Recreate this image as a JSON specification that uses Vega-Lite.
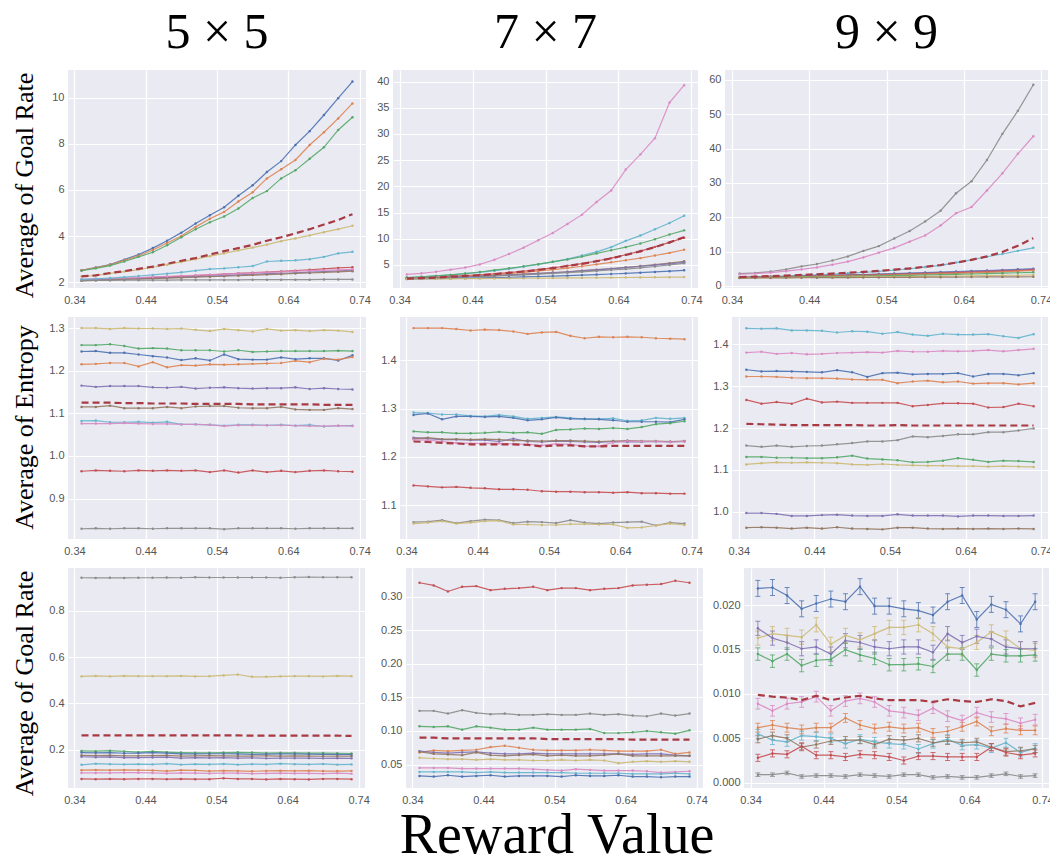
{
"$schema":"https://vega.github.io/schema/vega-lite/v6.json",
"background":"white",
"padding":{"left":10,"top":8,"right":2,"bottom":5},
"title":{"text":"Reward Value","orient":"bottom","anchor":"middle","fontSize":56,"font":"Liberation Serif","fontWeight":"normal","color":"black","baseline":"alphabetic","offset":48,"dx":25},
"config":{
"view":{"fill":"#EAEAF2","stroke":null},
"range":{"category":["#4C72B0","#DD8452","#55A868","#C44E52","#8172B3","#937860","#DA8BC3","#8C8C8C","#CCB974","#64B5CD"]},
"axis":{"domain":false,"ticks":false,"grid":true,"gridColor":"white","gridWidth":1.2,"labelFont":"Liberation Sans","labelFontSize":11,"labelColor":"#555555","labelPadding":4,"titleFont":"Liberation Serif","titleFontSize":26,"titleFontWeight":"normal","titleColor":"black"},
"axisY":{"titleAngle":270,"titleX":-36,"titleBaseline":"alphabetic","titleAlign":"center"},
"axisX":{"labelPadding":6},
"title":{"font":"Liberation Serif","fontSize":50,"fontWeight":"normal","color":"black","baseline":"alphabetic","offset":12,"anchor":"middle"}
},
"data":{"values":[
{"p":1,"s":"a","x":0.35,"y":2.52},{"p":1,"s":"a","x":0.37,"y":2.64},{"p":1,"s":"a","x":0.39,"y":2.77},{"p":1,"s":"a","x":0.41,"y":2.98},{"p":1,"s":"a","x":0.43,"y":3.2},{"p":1,"s":"a","x":0.45,"y":3.48},{"p":1,"s":"a","x":0.47,"y":3.8},{"p":1,"s":"a","x":0.49,"y":4.15},{"p":1,"s":"a","x":0.51,"y":4.55},{"p":1,"s":"a","x":0.53,"y":4.9},{"p":1,"s":"a","x":0.55,"y":5.25},{"p":1,"s":"a","x":0.57,"y":5.75},{"p":1,"s":"a","x":0.59,"y":6.2},{"p":1,"s":"a","x":0.61,"y":6.78},{"p":1,"s":"a","x":0.63,"y":7.25},{"p":1,"s":"a","x":0.65,"y":7.95},{"p":1,"s":"a","x":0.67,"y":8.55},{"p":1,"s":"a","x":0.69,"y":9.25},{"p":1,"s":"a","x":0.71,"y":9.98},{"p":1,"s":"a","x":0.73,"y":10.7},
{"p":1,"s":"b","x":0.35,"y":2.52},{"p":1,"s":"b","x":0.37,"y":2.63},{"p":1,"s":"b","x":0.39,"y":2.75},{"p":1,"s":"b","x":0.41,"y":2.95},{"p":1,"s":"b","x":0.43,"y":3.15},{"p":1,"s":"b","x":0.45,"y":3.4},{"p":1,"s":"b","x":0.47,"y":3.7},{"p":1,"s":"b","x":0.49,"y":4.0},{"p":1,"s":"b","x":0.51,"y":4.4},{"p":1,"s":"b","x":0.53,"y":4.75},{"p":1,"s":"b","x":0.55,"y":5.05},{"p":1,"s":"b","x":0.57,"y":5.5},{"p":1,"s":"b","x":0.59,"y":5.9},{"p":1,"s":"b","x":0.61,"y":6.5},{"p":1,"s":"b","x":0.63,"y":6.9},{"p":1,"s":"b","x":0.65,"y":7.3},{"p":1,"s":"b","x":0.67,"y":7.95},{"p":1,"s":"b","x":0.69,"y":8.5},{"p":1,"s":"b","x":0.71,"y":9.1},{"p":1,"s":"b","x":0.73,"y":9.75},
{"p":1,"s":"c","x":0.35,"y":2.5},{"p":1,"s":"c","x":0.37,"y":2.6},{"p":1,"s":"c","x":0.39,"y":2.72},{"p":1,"s":"c","x":0.41,"y":2.9},{"p":1,"s":"c","x":0.43,"y":3.1},{"p":1,"s":"c","x":0.45,"y":3.3},{"p":1,"s":"c","x":0.47,"y":3.6},{"p":1,"s":"c","x":0.49,"y":3.95},{"p":1,"s":"c","x":0.51,"y":4.3},{"p":1,"s":"c","x":0.53,"y":4.6},{"p":1,"s":"c","x":0.55,"y":4.85},{"p":1,"s":"c","x":0.57,"y":5.2},{"p":1,"s":"c","x":0.59,"y":5.65},{"p":1,"s":"c","x":0.61,"y":5.95},{"p":1,"s":"c","x":0.63,"y":6.5},{"p":1,"s":"c","x":0.65,"y":6.85},{"p":1,"s":"c","x":0.67,"y":7.35},{"p":1,"s":"c","x":0.69,"y":7.85},{"p":1,"s":"c","x":0.71,"y":8.6},{"p":1,"s":"c","x":0.73,"y":9.15},
{"p":1,"s":"d","x":0.35,"y":2.1},{"p":1,"s":"d","x":0.37,"y":2.12},{"p":1,"s":"d","x":0.39,"y":2.14},{"p":1,"s":"d","x":0.41,"y":2.16},{"p":1,"s":"d","x":0.43,"y":2.18},{"p":1,"s":"d","x":0.45,"y":2.2},{"p":1,"s":"d","x":0.47,"y":2.23},{"p":1,"s":"d","x":0.49,"y":2.26},{"p":1,"s":"d","x":0.51,"y":2.29},{"p":1,"s":"d","x":0.53,"y":2.32},{"p":1,"s":"d","x":0.55,"y":2.35},{"p":1,"s":"d","x":0.57,"y":2.38},{"p":1,"s":"d","x":0.59,"y":2.41},{"p":1,"s":"d","x":0.61,"y":2.44},{"p":1,"s":"d","x":0.63,"y":2.47},{"p":1,"s":"d","x":0.65,"y":2.5},{"p":1,"s":"d","x":0.67,"y":2.54},{"p":1,"s":"d","x":0.69,"y":2.58},{"p":1,"s":"d","x":0.71,"y":2.62},{"p":1,"s":"d","x":0.73,"y":2.65},
{"p":1,"s":"e","x":0.35,"y":2.08},{"p":1,"s":"e","x":0.37,"y":2.1},{"p":1,"s":"e","x":0.39,"y":2.12},{"p":1,"s":"e","x":0.41,"y":2.14},{"p":1,"s":"e","x":0.43,"y":2.16},{"p":1,"s":"e","x":0.45,"y":2.18},{"p":1,"s":"e","x":0.47,"y":2.2},{"p":1,"s":"e","x":0.49,"y":2.22},{"p":1,"s":"e","x":0.51,"y":2.24},{"p":1,"s":"e","x":0.53,"y":2.27},{"p":1,"s":"e","x":0.55,"y":2.29},{"p":1,"s":"e","x":0.57,"y":2.32},{"p":1,"s":"e","x":0.59,"y":2.34},{"p":1,"s":"e","x":0.61,"y":2.37},{"p":1,"s":"e","x":0.63,"y":2.39},{"p":1,"s":"e","x":0.65,"y":2.41},{"p":1,"s":"e","x":0.67,"y":2.44},{"p":1,"s":"e","x":0.69,"y":2.46},{"p":1,"s":"e","x":0.71,"y":2.49},{"p":1,"s":"e","x":0.73,"y":2.52},
{"p":1,"s":"f","x":0.35,"y":2.06},{"p":1,"s":"f","x":0.37,"y":2.08},{"p":1,"s":"f","x":0.39,"y":2.1},{"p":1,"s":"f","x":0.41,"y":2.12},{"p":1,"s":"f","x":0.43,"y":2.14},{"p":1,"s":"f","x":0.45,"y":2.16},{"p":1,"s":"f","x":0.47,"y":2.18},{"p":1,"s":"f","x":0.49,"y":2.2},{"p":1,"s":"f","x":0.51,"y":2.22},{"p":1,"s":"f","x":0.53,"y":2.24},{"p":1,"s":"f","x":0.55,"y":2.26},{"p":1,"s":"f","x":0.57,"y":2.28},{"p":1,"s":"f","x":0.59,"y":2.31},{"p":1,"s":"f","x":0.61,"y":2.33},{"p":1,"s":"f","x":0.63,"y":2.35},{"p":1,"s":"f","x":0.65,"y":2.38},{"p":1,"s":"f","x":0.67,"y":2.4},{"p":1,"s":"f","x":0.69,"y":2.43},{"p":1,"s":"f","x":0.71,"y":2.45},{"p":1,"s":"f","x":0.73,"y":2.48},
{"p":1,"s":"g","x":0.35,"y":2.12},{"p":1,"s":"g","x":0.37,"y":2.14},{"p":1,"s":"g","x":0.39,"y":2.16},{"p":1,"s":"g","x":0.41,"y":2.18},{"p":1,"s":"g","x":0.43,"y":2.2},{"p":1,"s":"g","x":0.45,"y":2.23},{"p":1,"s":"g","x":0.47,"y":2.25},{"p":1,"s":"g","x":0.49,"y":2.28},{"p":1,"s":"g","x":0.51,"y":2.3},{"p":1,"s":"g","x":0.53,"y":2.33},{"p":1,"s":"g","x":0.55,"y":2.35},{"p":1,"s":"g","x":0.57,"y":2.38},{"p":1,"s":"g","x":0.59,"y":2.4},{"p":1,"s":"g","x":0.61,"y":2.43},{"p":1,"s":"g","x":0.63,"y":2.45},{"p":1,"s":"g","x":0.65,"y":2.48},{"p":1,"s":"g","x":0.67,"y":2.5},{"p":1,"s":"g","x":0.69,"y":2.52},{"p":1,"s":"g","x":0.71,"y":2.54},{"p":1,"s":"g","x":0.73,"y":2.56},
{"p":1,"s":"h","x":0.35,"y":2.08},{"p":1,"s":"h","x":0.37,"y":2.08},{"p":1,"s":"h","x":0.39,"y":2.08},{"p":1,"s":"h","x":0.41,"y":2.09},{"p":1,"s":"h","x":0.43,"y":2.09},{"p":1,"s":"h","x":0.45,"y":2.09},{"p":1,"s":"h","x":0.47,"y":2.09},{"p":1,"s":"h","x":0.49,"y":2.1},{"p":1,"s":"h","x":0.51,"y":2.1},{"p":1,"s":"h","x":0.53,"y":2.1},{"p":1,"s":"h","x":0.55,"y":2.1},{"p":1,"s":"h","x":0.57,"y":2.1},{"p":1,"s":"h","x":0.59,"y":2.11},{"p":1,"s":"h","x":0.61,"y":2.11},{"p":1,"s":"h","x":0.63,"y":2.11},{"p":1,"s":"h","x":0.65,"y":2.11},{"p":1,"s":"h","x":0.67,"y":2.11},{"p":1,"s":"h","x":0.69,"y":2.12},{"p":1,"s":"h","x":0.71,"y":2.12},{"p":1,"s":"h","x":0.73,"y":2.12},
{"p":1,"s":"i","x":0.35,"y":2.25},{"p":1,"s":"i","x":0.37,"y":2.3},{"p":1,"s":"i","x":0.39,"y":2.38},{"p":1,"s":"i","x":0.41,"y":2.46},{"p":1,"s":"i","x":0.43,"y":2.55},{"p":1,"s":"i","x":0.45,"y":2.65},{"p":1,"s":"i","x":0.47,"y":2.76},{"p":1,"s":"i","x":0.49,"y":2.88},{"p":1,"s":"i","x":0.51,"y":3.0},{"p":1,"s":"i","x":0.53,"y":3.13},{"p":1,"s":"i","x":0.55,"y":3.25},{"p":1,"s":"i","x":0.57,"y":3.38},{"p":1,"s":"i","x":0.59,"y":3.5},{"p":1,"s":"i","x":0.61,"y":3.63},{"p":1,"s":"i","x":0.63,"y":3.78},{"p":1,"s":"i","x":0.65,"y":3.9},{"p":1,"s":"i","x":0.67,"y":4.03},{"p":1,"s":"i","x":0.69,"y":4.17},{"p":1,"s":"i","x":0.71,"y":4.3},{"p":1,"s":"i","x":0.73,"y":4.45},
{"p":1,"s":"j","x":0.35,"y":2.12},{"p":1,"s":"j","x":0.37,"y":2.15},{"p":1,"s":"j","x":0.39,"y":2.18},{"p":1,"s":"j","x":0.41,"y":2.22},{"p":1,"s":"j","x":0.43,"y":2.27},{"p":1,"s":"j","x":0.45,"y":2.32},{"p":1,"s":"j","x":0.47,"y":2.37},{"p":1,"s":"j","x":0.49,"y":2.43},{"p":1,"s":"j","x":0.51,"y":2.5},{"p":1,"s":"j","x":0.53,"y":2.57},{"p":1,"s":"j","x":0.55,"y":2.6},{"p":1,"s":"j","x":0.57,"y":2.65},{"p":1,"s":"j","x":0.59,"y":2.7},{"p":1,"s":"j","x":0.61,"y":2.9},{"p":1,"s":"j","x":0.63,"y":2.93},{"p":1,"s":"j","x":0.65,"y":2.95},{"p":1,"s":"j","x":0.67,"y":3.0},{"p":1,"s":"j","x":0.69,"y":3.1},{"p":1,"s":"j","x":0.71,"y":3.25},{"p":1,"s":"j","x":0.73,"y":3.32},
{"p":1,"s":"m","x":0.35,"y":2.25},{"p":1,"s":"m","x":0.37,"y":2.3},{"p":1,"s":"m","x":0.39,"y":2.4},{"p":1,"s":"m","x":0.41,"y":2.48},{"p":1,"s":"m","x":0.43,"y":2.58},{"p":1,"s":"m","x":0.45,"y":2.68},{"p":1,"s":"m","x":0.47,"y":2.8},{"p":1,"s":"m","x":0.49,"y":2.93},{"p":1,"s":"m","x":0.51,"y":3.05},{"p":1,"s":"m","x":0.53,"y":3.2},{"p":1,"s":"m","x":0.55,"y":3.35},{"p":1,"s":"m","x":0.57,"y":3.48},{"p":1,"s":"m","x":0.59,"y":3.62},{"p":1,"s":"m","x":0.61,"y":3.8},{"p":1,"s":"m","x":0.63,"y":3.95},{"p":1,"s":"m","x":0.65,"y":4.12},{"p":1,"s":"m","x":0.67,"y":4.3},{"p":1,"s":"m","x":0.69,"y":4.5},{"p":1,"s":"m","x":0.71,"y":4.7},{"p":1,"s":"m","x":0.73,"y":4.95},
{"p":2,"s":"g","x":0.35,"y":3.2},{"p":2,"s":"g","x":0.37,"y":3.4},{"p":2,"s":"g","x":0.39,"y":3.7},{"p":2,"s":"g","x":0.41,"y":4.1},{"p":2,"s":"g","x":0.43,"y":4.5},{"p":2,"s":"g","x":0.45,"y":5.1},{"p":2,"s":"g","x":0.47,"y":6.0},{"p":2,"s":"g","x":0.49,"y":7.1},{"p":2,"s":"g","x":0.51,"y":8.3},{"p":2,"s":"g","x":0.53,"y":9.7},{"p":2,"s":"g","x":0.55,"y":11.1},{"p":2,"s":"g","x":0.57,"y":12.8},{"p":2,"s":"g","x":0.59,"y":14.6},{"p":2,"s":"g","x":0.61,"y":17.0},{"p":2,"s":"g","x":0.63,"y":19.2},{"p":2,"s":"g","x":0.65,"y":23.2},{"p":2,"s":"g","x":0.67,"y":26.1},{"p":2,"s":"g","x":0.69,"y":29.2},{"p":2,"s":"g","x":0.71,"y":36.0},{"p":2,"s":"g","x":0.73,"y":39.3},
{"p":2,"s":"j","x":0.35,"y":2.6},{"p":2,"s":"j","x":0.37,"y":2.75},{"p":2,"s":"j","x":0.39,"y":2.9},{"p":2,"s":"j","x":0.41,"y":3.1},{"p":2,"s":"j","x":0.43,"y":3.35},{"p":2,"s":"j","x":0.45,"y":3.6},{"p":2,"s":"j","x":0.47,"y":3.9},{"p":2,"s":"j","x":0.49,"y":4.25},{"p":2,"s":"j","x":0.51,"y":4.65},{"p":2,"s":"j","x":0.53,"y":5.1},{"p":2,"s":"j","x":0.55,"y":5.6},{"p":2,"s":"j","x":0.57,"y":6.1},{"p":2,"s":"j","x":0.59,"y":6.8},{"p":2,"s":"j","x":0.61,"y":7.5},{"p":2,"s":"j","x":0.63,"y":8.4},{"p":2,"s":"j","x":0.65,"y":9.6},{"p":2,"s":"j","x":0.67,"y":10.6},{"p":2,"s":"j","x":0.69,"y":11.8},{"p":2,"s":"j","x":0.71,"y":13.0},{"p":2,"s":"j","x":0.73,"y":14.4},
{"p":2,"s":"c","x":0.35,"y":2.6},{"p":2,"s":"c","x":0.37,"y":2.75},{"p":2,"s":"c","x":0.39,"y":2.9},{"p":2,"s":"c","x":0.41,"y":3.1},{"p":2,"s":"c","x":0.43,"y":3.35},{"p":2,"s":"c","x":0.45,"y":3.65},{"p":2,"s":"c","x":0.47,"y":4.0},{"p":2,"s":"c","x":0.49,"y":4.35},{"p":2,"s":"c","x":0.51,"y":4.75},{"p":2,"s":"c","x":0.53,"y":5.15},{"p":2,"s":"c","x":0.55,"y":5.6},{"p":2,"s":"c","x":0.57,"y":6.05},{"p":2,"s":"c","x":0.59,"y":6.6},{"p":2,"s":"c","x":0.61,"y":7.2},{"p":2,"s":"c","x":0.63,"y":7.8},{"p":2,"s":"c","x":0.65,"y":8.4},{"p":2,"s":"c","x":0.67,"y":9.1},{"p":2,"s":"c","x":0.69,"y":9.9},{"p":2,"s":"c","x":0.71,"y":10.8},{"p":2,"s":"c","x":0.73,"y":11.6},
{"p":2,"s":"d","x":0.35,"y":2.45},{"p":2,"s":"d","x":0.37,"y":2.55},{"p":2,"s":"d","x":0.39,"y":2.65},{"p":2,"s":"d","x":0.41,"y":2.8},{"p":2,"s":"d","x":0.43,"y":2.95},{"p":2,"s":"d","x":0.45,"y":3.1},{"p":2,"s":"d","x":0.47,"y":3.3},{"p":2,"s":"d","x":0.49,"y":3.55},{"p":2,"s":"d","x":0.51,"y":3.8},{"p":2,"s":"d","x":0.53,"y":4.1},{"p":2,"s":"d","x":0.55,"y":4.45},{"p":2,"s":"d","x":0.57,"y":4.85},{"p":2,"s":"d","x":0.59,"y":5.25},{"p":2,"s":"d","x":0.61,"y":5.75},{"p":2,"s":"d","x":0.63,"y":6.3},{"p":2,"s":"d","x":0.65,"y":6.95},{"p":2,"s":"d","x":0.67,"y":7.65},{"p":2,"s":"d","x":0.69,"y":8.45},{"p":2,"s":"d","x":0.71,"y":9.3},{"p":2,"s":"d","x":0.73,"y":10.2},
{"p":2,"s":"b","x":0.35,"y":2.4},{"p":2,"s":"b","x":0.37,"y":2.5},{"p":2,"s":"b","x":0.39,"y":2.6},{"p":2,"s":"b","x":0.41,"y":2.7},{"p":2,"s":"b","x":0.43,"y":2.85},{"p":2,"s":"b","x":0.45,"y":3.0},{"p":2,"s":"b","x":0.47,"y":3.2},{"p":2,"s":"b","x":0.49,"y":3.4},{"p":2,"s":"b","x":0.51,"y":3.6},{"p":2,"s":"b","x":0.53,"y":3.85},{"p":2,"s":"b","x":0.55,"y":4.1},{"p":2,"s":"b","x":0.57,"y":4.4},{"p":2,"s":"b","x":0.59,"y":4.75},{"p":2,"s":"b","x":0.61,"y":5.1},{"p":2,"s":"b","x":0.63,"y":5.5},{"p":2,"s":"b","x":0.65,"y":5.9},{"p":2,"s":"b","x":0.67,"y":6.3},{"p":2,"s":"b","x":0.69,"y":6.8},{"p":2,"s":"b","x":0.71,"y":7.3},{"p":2,"s":"b","x":0.73,"y":7.9},
{"p":2,"s":"f","x":0.35,"y":2.4},{"p":2,"s":"f","x":0.37,"y":2.46},{"p":2,"s":"f","x":0.39,"y":2.56},{"p":2,"s":"f","x":0.41,"y":2.66},{"p":2,"s":"f","x":0.43,"y":2.76},{"p":2,"s":"f","x":0.45,"y":2.87},{"p":2,"s":"f","x":0.47,"y":2.98},{"p":2,"s":"f","x":0.49,"y":3.1},{"p":2,"s":"f","x":0.51,"y":3.24},{"p":2,"s":"f","x":0.53,"y":3.38},{"p":2,"s":"f","x":0.55,"y":3.54},{"p":2,"s":"f","x":0.57,"y":3.7},{"p":2,"s":"f","x":0.59,"y":3.9},{"p":2,"s":"f","x":0.61,"y":4.1},{"p":2,"s":"f","x":0.63,"y":4.3},{"p":2,"s":"f","x":0.65,"y":4.55},{"p":2,"s":"f","x":0.67,"y":4.8},{"p":2,"s":"f","x":0.69,"y":5.05},{"p":2,"s":"f","x":0.71,"y":5.35},{"p":2,"s":"f","x":0.73,"y":5.7},
{"p":2,"s":"e","x":0.35,"y":2.4},{"p":2,"s":"e","x":0.37,"y":2.45},{"p":2,"s":"e","x":0.39,"y":2.55},{"p":2,"s":"e","x":0.41,"y":2.65},{"p":2,"s":"e","x":0.43,"y":2.75},{"p":2,"s":"e","x":0.45,"y":2.85},{"p":2,"s":"e","x":0.47,"y":2.95},{"p":2,"s":"e","x":0.49,"y":3.05},{"p":2,"s":"e","x":0.51,"y":3.2},{"p":2,"s":"e","x":0.53,"y":3.35},{"p":2,"s":"e","x":0.55,"y":3.5},{"p":2,"s":"e","x":0.57,"y":3.65},{"p":2,"s":"e","x":0.59,"y":3.85},{"p":2,"s":"e","x":0.61,"y":4.05},{"p":2,"s":"e","x":0.63,"y":4.25},{"p":2,"s":"e","x":0.65,"y":4.5},{"p":2,"s":"e","x":0.67,"y":4.7},{"p":2,"s":"e","x":0.69,"y":4.95},{"p":2,"s":"e","x":0.71,"y":5.2},{"p":2,"s":"e","x":0.73,"y":5.5},
{"p":2,"s":"h","x":0.35,"y":2.35},{"p":2,"s":"h","x":0.37,"y":2.42},{"p":2,"s":"h","x":0.39,"y":2.5},{"p":2,"s":"h","x":0.41,"y":2.6},{"p":2,"s":"h","x":0.43,"y":2.7},{"p":2,"s":"h","x":0.45,"y":2.8},{"p":2,"s":"h","x":0.47,"y":2.9},{"p":2,"s":"h","x":0.49,"y":3.0},{"p":2,"s":"h","x":0.51,"y":3.12},{"p":2,"s":"h","x":0.53,"y":3.25},{"p":2,"s":"h","x":0.55,"y":3.38},{"p":2,"s":"h","x":0.57,"y":3.52},{"p":2,"s":"h","x":0.59,"y":3.68},{"p":2,"s":"h","x":0.61,"y":3.85},{"p":2,"s":"h","x":0.63,"y":4.03},{"p":2,"s":"h","x":0.65,"y":4.22},{"p":2,"s":"h","x":0.67,"y":4.45},{"p":2,"s":"h","x":0.69,"y":4.7},{"p":2,"s":"h","x":0.71,"y":5.0},{"p":2,"s":"h","x":0.73,"y":5.3},
{"p":2,"s":"a","x":0.35,"y":2.3},{"p":2,"s":"a","x":0.37,"y":2.34},{"p":2,"s":"a","x":0.39,"y":2.38},{"p":2,"s":"a","x":0.41,"y":2.43},{"p":2,"s":"a","x":0.43,"y":2.48},{"p":2,"s":"a","x":0.45,"y":2.53},{"p":2,"s":"a","x":0.47,"y":2.59},{"p":2,"s":"a","x":0.49,"y":2.65},{"p":2,"s":"a","x":0.51,"y":2.72},{"p":2,"s":"a","x":0.53,"y":2.79},{"p":2,"s":"a","x":0.55,"y":2.87},{"p":2,"s":"a","x":0.57,"y":2.96},{"p":2,"s":"a","x":0.59,"y":3.06},{"p":2,"s":"a","x":0.61,"y":3.16},{"p":2,"s":"a","x":0.63,"y":3.27},{"p":2,"s":"a","x":0.65,"y":3.39},{"p":2,"s":"a","x":0.67,"y":3.52},{"p":2,"s":"a","x":0.69,"y":3.66},{"p":2,"s":"a","x":0.71,"y":3.81},{"p":2,"s":"a","x":0.73,"y":3.97},
{"p":2,"s":"i","x":0.35,"y":2.3},{"p":2,"s":"i","x":0.37,"y":2.32},{"p":2,"s":"i","x":0.39,"y":2.34},{"p":2,"s":"i","x":0.41,"y":2.36},{"p":2,"s":"i","x":0.43,"y":2.38},{"p":2,"s":"i","x":0.45,"y":2.4},{"p":2,"s":"i","x":0.47,"y":2.42},{"p":2,"s":"i","x":0.49,"y":2.44},{"p":2,"s":"i","x":0.51,"y":2.46},{"p":2,"s":"i","x":0.53,"y":2.48},{"p":2,"s":"i","x":0.55,"y":2.5},{"p":2,"s":"i","x":0.57,"y":2.52},{"p":2,"s":"i","x":0.59,"y":2.54},{"p":2,"s":"i","x":0.61,"y":2.56},{"p":2,"s":"i","x":0.63,"y":2.58},{"p":2,"s":"i","x":0.65,"y":2.6},{"p":2,"s":"i","x":0.67,"y":2.62},{"p":2,"s":"i","x":0.69,"y":2.64},{"p":2,"s":"i","x":0.71,"y":2.66},{"p":2,"s":"i","x":0.73,"y":2.68},
{"p":2,"s":"m","x":0.35,"y":2.4},{"p":2,"s":"m","x":0.37,"y":2.5},{"p":2,"s":"m","x":0.39,"y":2.6},{"p":2,"s":"m","x":0.41,"y":2.75},{"p":2,"s":"m","x":0.43,"y":2.9},{"p":2,"s":"m","x":0.45,"y":3.05},{"p":2,"s":"m","x":0.47,"y":3.25},{"p":2,"s":"m","x":0.49,"y":3.5},{"p":2,"s":"m","x":0.51,"y":3.75},{"p":2,"s":"m","x":0.53,"y":4.05},{"p":2,"s":"m","x":0.55,"y":4.4},{"p":2,"s":"m","x":0.57,"y":4.8},{"p":2,"s":"m","x":0.59,"y":5.2},{"p":2,"s":"m","x":0.61,"y":5.7},{"p":2,"s":"m","x":0.63,"y":6.25},{"p":2,"s":"m","x":0.65,"y":6.9},{"p":2,"s":"m","x":0.67,"y":7.6},{"p":2,"s":"m","x":0.69,"y":8.4},{"p":2,"s":"m","x":0.71,"y":9.3},{"p":2,"s":"m","x":0.73,"y":10.3},
{"p":3,"s":"h","x":0.35,"y":3.6},{"p":3,"s":"h","x":0.37,"y":3.8},{"p":3,"s":"h","x":0.39,"y":4.2},{"p":3,"s":"h","x":0.41,"y":4.8},{"p":3,"s":"h","x":0.43,"y":5.7},{"p":3,"s":"h","x":0.45,"y":6.4},{"p":3,"s":"h","x":0.47,"y":7.4},{"p":3,"s":"h","x":0.49,"y":8.6},{"p":3,"s":"h","x":0.51,"y":10.2},{"p":3,"s":"h","x":0.53,"y":11.6},{"p":3,"s":"h","x":0.55,"y":13.8},{"p":3,"s":"h","x":0.57,"y":16.0},{"p":3,"s":"h","x":0.59,"y":18.8},{"p":3,"s":"h","x":0.61,"y":21.9},{"p":3,"s":"h","x":0.63,"y":27.0},{"p":3,"s":"h","x":0.65,"y":30.5},{"p":3,"s":"h","x":0.67,"y":36.7},{"p":3,"s":"h","x":0.69,"y":44.3},{"p":3,"s":"h","x":0.71,"y":51.0},{"p":3,"s":"h","x":0.73,"y":58.6},
{"p":3,"s":"g","x":0.35,"y":3.4},{"p":3,"s":"g","x":0.37,"y":3.6},{"p":3,"s":"g","x":0.39,"y":3.9},{"p":3,"s":"g","x":0.41,"y":4.3},{"p":3,"s":"g","x":0.43,"y":4.8},{"p":3,"s":"g","x":0.45,"y":5.4},{"p":3,"s":"g","x":0.47,"y":6.2},{"p":3,"s":"g","x":0.49,"y":7.1},{"p":3,"s":"g","x":0.51,"y":8.3},{"p":3,"s":"g","x":0.53,"y":9.7},{"p":3,"s":"g","x":0.55,"y":11.1},{"p":3,"s":"g","x":0.57,"y":12.9},{"p":3,"s":"g","x":0.59,"y":14.7},{"p":3,"s":"g","x":0.61,"y":17.6},{"p":3,"s":"g","x":0.63,"y":21.2},{"p":3,"s":"g","x":0.65,"y":23.0},{"p":3,"s":"g","x":0.67,"y":27.8},{"p":3,"s":"g","x":0.69,"y":32.8},{"p":3,"s":"g","x":0.71,"y":38.5},{"p":3,"s":"g","x":0.73,"y":43.6},
{"p":3,"s":"j","x":0.35,"y":2.5},{"p":3,"s":"j","x":0.37,"y":2.6},{"p":3,"s":"j","x":0.39,"y":2.75},{"p":3,"s":"j","x":0.41,"y":2.9},{"p":3,"s":"j","x":0.43,"y":3.05},{"p":3,"s":"j","x":0.45,"y":3.25},{"p":3,"s":"j","x":0.47,"y":3.45},{"p":3,"s":"j","x":0.49,"y":3.7},{"p":3,"s":"j","x":0.51,"y":3.95},{"p":3,"s":"j","x":0.53,"y":4.25},{"p":3,"s":"j","x":0.55,"y":4.6},{"p":3,"s":"j","x":0.57,"y":5.0},{"p":3,"s":"j","x":0.59,"y":5.5},{"p":3,"s":"j","x":0.61,"y":6.0},{"p":3,"s":"j","x":0.63,"y":6.8},{"p":3,"s":"j","x":0.65,"y":7.6},{"p":3,"s":"j","x":0.67,"y":8.5},{"p":3,"s":"j","x":0.69,"y":9.3},{"p":3,"s":"j","x":0.71,"y":10.2},{"p":3,"s":"j","x":0.73,"y":11.1},
{"p":3,"s":"a","x":0.35,"y":2.5},{"p":3,"s":"a","x":0.37,"y":2.6},{"p":3,"s":"a","x":0.39,"y":2.7},{"p":3,"s":"a","x":0.41,"y":2.8},{"p":3,"s":"a","x":0.43,"y":2.9},{"p":3,"s":"a","x":0.45,"y":3.0},{"p":3,"s":"a","x":0.47,"y":3.1},{"p":3,"s":"a","x":0.49,"y":3.2},{"p":3,"s":"a","x":0.51,"y":3.3},{"p":3,"s":"a","x":0.53,"y":3.45},{"p":3,"s":"a","x":0.55,"y":3.6},{"p":3,"s":"a","x":0.57,"y":3.75},{"p":3,"s":"a","x":0.59,"y":3.9},{"p":3,"s":"a","x":0.61,"y":4.05},{"p":3,"s":"a","x":0.63,"y":4.2},{"p":3,"s":"a","x":0.65,"y":4.35},{"p":3,"s":"a","x":0.67,"y":4.5},{"p":3,"s":"a","x":0.69,"y":4.65},{"p":3,"s":"a","x":0.71,"y":4.85},{"p":3,"s":"a","x":0.73,"y":5.0},
{"p":3,"s":"e","x":0.35,"y":2.5},{"p":3,"s":"e","x":0.37,"y":2.58},{"p":3,"s":"e","x":0.39,"y":2.66},{"p":3,"s":"e","x":0.41,"y":2.75},{"p":3,"s":"e","x":0.43,"y":2.85},{"p":3,"s":"e","x":0.45,"y":2.95},{"p":3,"s":"e","x":0.47,"y":3.05},{"p":3,"s":"e","x":0.49,"y":3.15},{"p":3,"s":"e","x":0.51,"y":3.26},{"p":3,"s":"e","x":0.53,"y":3.38},{"p":3,"s":"e","x":0.55,"y":3.5},{"p":3,"s":"e","x":0.57,"y":3.63},{"p":3,"s":"e","x":0.59,"y":3.77},{"p":3,"s":"e","x":0.61,"y":3.92},{"p":3,"s":"e","x":0.63,"y":4.07},{"p":3,"s":"e","x":0.65,"y":4.22},{"p":3,"s":"e","x":0.67,"y":4.38},{"p":3,"s":"e","x":0.69,"y":4.55},{"p":3,"s":"e","x":0.71,"y":4.72},{"p":3,"s":"e","x":0.73,"y":4.9},
{"p":3,"s":"d","x":0.35,"y":2.45},{"p":3,"s":"d","x":0.37,"y":2.52},{"p":3,"s":"d","x":0.39,"y":2.6},{"p":3,"s":"d","x":0.41,"y":2.68},{"p":3,"s":"d","x":0.43,"y":2.77},{"p":3,"s":"d","x":0.45,"y":2.86},{"p":3,"s":"d","x":0.47,"y":2.95},{"p":3,"s":"d","x":0.49,"y":3.05},{"p":3,"s":"d","x":0.51,"y":3.15},{"p":3,"s":"d","x":0.53,"y":3.26},{"p":3,"s":"d","x":0.55,"y":3.37},{"p":3,"s":"d","x":0.57,"y":3.49},{"p":3,"s":"d","x":0.59,"y":3.61},{"p":3,"s":"d","x":0.61,"y":3.74},{"p":3,"s":"d","x":0.63,"y":3.88},{"p":3,"s":"d","x":0.65,"y":4.02},{"p":3,"s":"d","x":0.67,"y":4.17},{"p":3,"s":"d","x":0.69,"y":4.33},{"p":3,"s":"d","x":0.71,"y":4.5},{"p":3,"s":"d","x":0.73,"y":4.7},
{"p":3,"s":"b","x":0.35,"y":2.4},{"p":3,"s":"b","x":0.37,"y":2.46},{"p":3,"s":"b","x":0.39,"y":2.53},{"p":3,"s":"b","x":0.41,"y":2.6},{"p":3,"s":"b","x":0.43,"y":2.68},{"p":3,"s":"b","x":0.45,"y":2.76},{"p":3,"s":"b","x":0.47,"y":2.84},{"p":3,"s":"b","x":0.49,"y":2.93},{"p":3,"s":"b","x":0.51,"y":3.02},{"p":3,"s":"b","x":0.53,"y":3.12},{"p":3,"s":"b","x":0.55,"y":3.22},{"p":3,"s":"b","x":0.57,"y":3.33},{"p":3,"s":"b","x":0.59,"y":3.44},{"p":3,"s":"b","x":0.61,"y":3.56},{"p":3,"s":"b","x":0.63,"y":3.68},{"p":3,"s":"b","x":0.65,"y":3.81},{"p":3,"s":"b","x":0.67,"y":3.95},{"p":3,"s":"b","x":0.69,"y":4.1},{"p":3,"s":"b","x":0.71,"y":4.3},{"p":3,"s":"b","x":0.73,"y":4.5},
{"p":3,"s":"c","x":0.35,"y":2.4},{"p":3,"s":"c","x":0.37,"y":2.44},{"p":3,"s":"c","x":0.39,"y":2.49},{"p":3,"s":"c","x":0.41,"y":2.54},{"p":3,"s":"c","x":0.43,"y":2.6},{"p":3,"s":"c","x":0.45,"y":2.66},{"p":3,"s":"c","x":0.47,"y":2.72},{"p":3,"s":"c","x":0.49,"y":2.79},{"p":3,"s":"c","x":0.51,"y":2.86},{"p":3,"s":"c","x":0.53,"y":2.94},{"p":3,"s":"c","x":0.55,"y":3.02},{"p":3,"s":"c","x":0.57,"y":3.1},{"p":3,"s":"c","x":0.59,"y":3.19},{"p":3,"s":"c","x":0.61,"y":3.28},{"p":3,"s":"c","x":0.63,"y":3.38},{"p":3,"s":"c","x":0.65,"y":3.48},{"p":3,"s":"c","x":0.67,"y":3.59},{"p":3,"s":"c","x":0.69,"y":3.71},{"p":3,"s":"c","x":0.71,"y":3.84},{"p":3,"s":"c","x":0.73,"y":3.98},
{"p":3,"s":"i","x":0.35,"y":2.35},{"p":3,"s":"i","x":0.37,"y":2.38},{"p":3,"s":"i","x":0.39,"y":2.41},{"p":3,"s":"i","x":0.41,"y":2.44},{"p":3,"s":"i","x":0.43,"y":2.47},{"p":3,"s":"i","x":0.45,"y":2.5},{"p":3,"s":"i","x":0.47,"y":2.54},{"p":3,"s":"i","x":0.49,"y":2.58},{"p":3,"s":"i","x":0.51,"y":2.62},{"p":3,"s":"i","x":0.53,"y":2.66},{"p":3,"s":"i","x":0.55,"y":2.7},{"p":3,"s":"i","x":0.57,"y":2.74},{"p":3,"s":"i","x":0.59,"y":2.79},{"p":3,"s":"i","x":0.61,"y":2.84},{"p":3,"s":"i","x":0.63,"y":2.89},{"p":3,"s":"i","x":0.65,"y":2.94},{"p":3,"s":"i","x":0.67,"y":3.0},{"p":3,"s":"i","x":0.69,"y":3.06},{"p":3,"s":"i","x":0.71,"y":3.12},{"p":3,"s":"i","x":0.73,"y":3.2},
{"p":3,"s":"f","x":0.35,"y":2.3},{"p":3,"s":"f","x":0.37,"y":2.32},{"p":3,"s":"f","x":0.39,"y":2.34},{"p":3,"s":"f","x":0.41,"y":2.36},{"p":3,"s":"f","x":0.43,"y":2.38},{"p":3,"s":"f","x":0.45,"y":2.4},{"p":3,"s":"f","x":0.47,"y":2.42},{"p":3,"s":"f","x":0.49,"y":2.44},{"p":3,"s":"f","x":0.51,"y":2.46},{"p":3,"s":"f","x":0.53,"y":2.48},{"p":3,"s":"f","x":0.55,"y":2.5},{"p":3,"s":"f","x":0.57,"y":2.52},{"p":3,"s":"f","x":0.59,"y":2.54},{"p":3,"s":"f","x":0.61,"y":2.56},{"p":3,"s":"f","x":0.63,"y":2.58},{"p":3,"s":"f","x":0.65,"y":2.6},{"p":3,"s":"f","x":0.67,"y":2.62},{"p":3,"s":"f","x":0.69,"y":2.64},{"p":3,"s":"f","x":0.71,"y":2.66},{"p":3,"s":"f","x":0.73,"y":2.68},
{"p":3,"s":"m","x":0.35,"y":2.6},{"p":3,"s":"m","x":0.37,"y":2.7},{"p":3,"s":"m","x":0.39,"y":2.85},{"p":3,"s":"m","x":0.41,"y":3.0},{"p":3,"s":"m","x":0.43,"y":3.2},{"p":3,"s":"m","x":0.45,"y":3.4},{"p":3,"s":"m","x":0.47,"y":3.6},{"p":3,"s":"m","x":0.49,"y":3.85},{"p":3,"s":"m","x":0.51,"y":4.1},{"p":3,"s":"m","x":0.53,"y":4.4},{"p":3,"s":"m","x":0.55,"y":4.75},{"p":3,"s":"m","x":0.57,"y":5.1},{"p":3,"s":"m","x":0.59,"y":5.6},{"p":3,"s":"m","x":0.61,"y":6.1},{"p":3,"s":"m","x":0.63,"y":6.8},{"p":3,"s":"m","x":0.65,"y":7.6},{"p":3,"s":"m","x":0.67,"y":8.6},{"p":3,"s":"m","x":0.69,"y":9.9},{"p":3,"s":"m","x":0.71,"y":11.7},{"p":3,"s":"m","x":0.73,"y":13.9},
{"p":4,"s":"i","x":0.35,"y":1.3},{"p":4,"s":"i","x":0.37,"y":1.3},{"p":4,"s":"i","x":0.39,"y":1.298},{"p":4,"s":"i","x":0.41,"y":1.3},{"p":4,"s":"i","x":0.43,"y":1.299},{"p":4,"s":"i","x":0.45,"y":1.299},{"p":4,"s":"i","x":0.47,"y":1.298},{"p":4,"s":"i","x":0.49,"y":1.299},{"p":4,"s":"i","x":0.51,"y":1.296},{"p":4,"s":"i","x":0.53,"y":1.293},{"p":4,"s":"i","x":0.55,"y":1.298},{"p":4,"s":"i","x":0.57,"y":1.295},{"p":4,"s":"i","x":0.59,"y":1.292},{"p":4,"s":"i","x":0.61,"y":1.298},{"p":4,"s":"i","x":0.63,"y":1.294},{"p":4,"s":"i","x":0.65,"y":1.295},{"p":4,"s":"i","x":0.67,"y":1.293},{"p":4,"s":"i","x":0.69,"y":1.295},{"p":4,"s":"i","x":0.71,"y":1.294},{"p":4,"s":"i","x":0.73,"y":1.291},
{"p":4,"s":"c","x":0.35,"y":1.26},{"p":4,"s":"c","x":0.37,"y":1.26},{"p":4,"s":"c","x":0.39,"y":1.262},{"p":4,"s":"c","x":0.41,"y":1.258},{"p":4,"s":"c","x":0.43,"y":1.252},{"p":4,"s":"c","x":0.45,"y":1.253},{"p":4,"s":"c","x":0.47,"y":1.252},{"p":4,"s":"c","x":0.49,"y":1.248},{"p":4,"s":"c","x":0.51,"y":1.248},{"p":4,"s":"c","x":0.53,"y":1.248},{"p":4,"s":"c","x":0.55,"y":1.245},{"p":4,"s":"c","x":0.57,"y":1.248},{"p":4,"s":"c","x":0.59,"y":1.244},{"p":4,"s":"c","x":0.61,"y":1.245},{"p":4,"s":"c","x":0.63,"y":1.246},{"p":4,"s":"c","x":0.65,"y":1.246},{"p":4,"s":"c","x":0.67,"y":1.246},{"p":4,"s":"c","x":0.69,"y":1.246},{"p":4,"s":"c","x":0.71,"y":1.247},{"p":4,"s":"c","x":0.73,"y":1.246},
{"p":4,"s":"a","x":0.35,"y":1.245},{"p":4,"s":"a","x":0.37,"y":1.246},{"p":4,"s":"a","x":0.39,"y":1.242},{"p":4,"s":"a","x":0.41,"y":1.242},{"p":4,"s":"a","x":0.43,"y":1.238},{"p":4,"s":"a","x":0.45,"y":1.234},{"p":4,"s":"a","x":0.47,"y":1.231},{"p":4,"s":"a","x":0.49,"y":1.225},{"p":4,"s":"a","x":0.51,"y":1.229},{"p":4,"s":"a","x":0.53,"y":1.224},{"p":4,"s":"a","x":0.55,"y":1.238},{"p":4,"s":"a","x":0.57,"y":1.227},{"p":4,"s":"a","x":0.59,"y":1.226},{"p":4,"s":"a","x":0.61,"y":1.226},{"p":4,"s":"a","x":0.63,"y":1.231},{"p":4,"s":"a","x":0.65,"y":1.227},{"p":4,"s":"a","x":0.67,"y":1.229},{"p":4,"s":"a","x":0.69,"y":1.229},{"p":4,"s":"a","x":0.71,"y":1.224},{"p":4,"s":"a","x":0.73,"y":1.236},
{"p":4,"s":"b","x":0.35,"y":1.215},{"p":4,"s":"b","x":0.37,"y":1.216},{"p":4,"s":"b","x":0.39,"y":1.218},{"p":4,"s":"b","x":0.41,"y":1.218},{"p":4,"s":"b","x":0.43,"y":1.21},{"p":4,"s":"b","x":0.45,"y":1.22},{"p":4,"s":"b","x":0.47,"y":1.208},{"p":4,"s":"b","x":0.49,"y":1.213},{"p":4,"s":"b","x":0.51,"y":1.212},{"p":4,"s":"b","x":0.53,"y":1.215},{"p":4,"s":"b","x":0.55,"y":1.214},{"p":4,"s":"b","x":0.57,"y":1.215},{"p":4,"s":"b","x":0.59,"y":1.216},{"p":4,"s":"b","x":0.61,"y":1.217},{"p":4,"s":"b","x":0.63,"y":1.218},{"p":4,"s":"b","x":0.65,"y":1.223},{"p":4,"s":"b","x":0.67,"y":1.22},{"p":4,"s":"b","x":0.69,"y":1.228},{"p":4,"s":"b","x":0.71,"y":1.226},{"p":4,"s":"b","x":0.73,"y":1.232},
{"p":4,"s":"e","x":0.35,"y":1.165},{"p":4,"s":"e","x":0.37,"y":1.162},{"p":4,"s":"e","x":0.39,"y":1.164},{"p":4,"s":"e","x":0.41,"y":1.164},{"p":4,"s":"e","x":0.43,"y":1.164},{"p":4,"s":"e","x":0.45,"y":1.161},{"p":4,"s":"e","x":0.47,"y":1.16},{"p":4,"s":"e","x":0.49,"y":1.162},{"p":4,"s":"e","x":0.51,"y":1.158},{"p":4,"s":"e","x":0.53,"y":1.16},{"p":4,"s":"e","x":0.55,"y":1.161},{"p":4,"s":"e","x":0.57,"y":1.159},{"p":4,"s":"e","x":0.59,"y":1.158},{"p":4,"s":"e","x":0.61,"y":1.159},{"p":4,"s":"e","x":0.63,"y":1.159},{"p":4,"s":"e","x":0.65,"y":1.161},{"p":4,"s":"e","x":0.67,"y":1.157},{"p":4,"s":"e","x":0.69,"y":1.159},{"p":4,"s":"e","x":0.71,"y":1.157},{"p":4,"s":"e","x":0.73,"y":1.156},
{"p":4,"s":"f","x":0.35,"y":1.115},{"p":4,"s":"f","x":0.37,"y":1.115},{"p":4,"s":"f","x":0.39,"y":1.118},{"p":4,"s":"f","x":0.41,"y":1.112},{"p":4,"s":"f","x":0.43,"y":1.112},{"p":4,"s":"f","x":0.45,"y":1.112},{"p":4,"s":"f","x":0.47,"y":1.115},{"p":4,"s":"f","x":0.49,"y":1.112},{"p":4,"s":"f","x":0.51,"y":1.116},{"p":4,"s":"f","x":0.53,"y":1.117},{"p":4,"s":"f","x":0.55,"y":1.117},{"p":4,"s":"f","x":0.57,"y":1.113},{"p":4,"s":"f","x":0.59,"y":1.112},{"p":4,"s":"f","x":0.61,"y":1.112},{"p":4,"s":"f","x":0.63,"y":1.115},{"p":4,"s":"f","x":0.65,"y":1.109},{"p":4,"s":"f","x":0.67,"y":1.108},{"p":4,"s":"f","x":0.69,"y":1.108},{"p":4,"s":"f","x":0.71,"y":1.112},{"p":4,"s":"f","x":0.73,"y":1.11},
{"p":4,"s":"j","x":0.35,"y":1.082},{"p":4,"s":"j","x":0.37,"y":1.083},{"p":4,"s":"j","x":0.39,"y":1.079},{"p":4,"s":"j","x":0.41,"y":1.079},{"p":4,"s":"j","x":0.43,"y":1.08},{"p":4,"s":"j","x":0.45,"y":1.078},{"p":4,"s":"j","x":0.47,"y":1.08},{"p":4,"s":"j","x":0.49,"y":1.074},{"p":4,"s":"j","x":0.51,"y":1.074},{"p":4,"s":"j","x":0.53,"y":1.073},{"p":4,"s":"j","x":0.55,"y":1.071},{"p":4,"s":"j","x":0.57,"y":1.073},{"p":4,"s":"j","x":0.59,"y":1.073},{"p":4,"s":"j","x":0.61,"y":1.072},{"p":4,"s":"j","x":0.63,"y":1.073},{"p":4,"s":"j","x":0.65,"y":1.071},{"p":4,"s":"j","x":0.67,"y":1.073},{"p":4,"s":"j","x":0.69,"y":1.069},{"p":4,"s":"j","x":0.71,"y":1.071},{"p":4,"s":"j","x":0.73,"y":1.071},
{"p":4,"s":"g","x":0.35,"y":1.076},{"p":4,"s":"g","x":0.37,"y":1.076},{"p":4,"s":"g","x":0.39,"y":1.076},{"p":4,"s":"g","x":0.41,"y":1.077},{"p":4,"s":"g","x":0.43,"y":1.076},{"p":4,"s":"g","x":0.45,"y":1.075},{"p":4,"s":"g","x":0.47,"y":1.075},{"p":4,"s":"g","x":0.49,"y":1.074},{"p":4,"s":"g","x":0.51,"y":1.074},{"p":4,"s":"g","x":0.53,"y":1.073},{"p":4,"s":"g","x":0.55,"y":1.07},{"p":4,"s":"g","x":0.57,"y":1.072},{"p":4,"s":"g","x":0.59,"y":1.072},{"p":4,"s":"g","x":0.61,"y":1.072},{"p":4,"s":"g","x":0.63,"y":1.072},{"p":4,"s":"g","x":0.65,"y":1.071},{"p":4,"s":"g","x":0.67,"y":1.07},{"p":4,"s":"g","x":0.69,"y":1.07},{"p":4,"s":"g","x":0.71,"y":1.071},{"p":4,"s":"g","x":0.73,"y":1.07},
{"p":4,"s":"d","x":0.35,"y":0.964},{"p":4,"s":"d","x":0.37,"y":0.966},{"p":4,"s":"d","x":0.39,"y":0.965},{"p":4,"s":"d","x":0.41,"y":0.964},{"p":4,"s":"d","x":0.43,"y":0.966},{"p":4,"s":"d","x":0.45,"y":0.965},{"p":4,"s":"d","x":0.47,"y":0.966},{"p":4,"s":"d","x":0.49,"y":0.965},{"p":4,"s":"d","x":0.51,"y":0.966},{"p":4,"s":"d","x":0.53,"y":0.962},{"p":4,"s":"d","x":0.55,"y":0.966},{"p":4,"s":"d","x":0.57,"y":0.961},{"p":4,"s":"d","x":0.59,"y":0.966},{"p":4,"s":"d","x":0.61,"y":0.962},{"p":4,"s":"d","x":0.63,"y":0.965},{"p":4,"s":"d","x":0.65,"y":0.962},{"p":4,"s":"d","x":0.67,"y":0.965},{"p":4,"s":"d","x":0.69,"y":0.966},{"p":4,"s":"d","x":0.71,"y":0.964},{"p":4,"s":"d","x":0.73,"y":0.963},
{"p":4,"s":"h","x":0.35,"y":0.829},{"p":4,"s":"h","x":0.37,"y":0.83},{"p":4,"s":"h","x":0.39,"y":0.829},{"p":4,"s":"h","x":0.41,"y":0.83},{"p":4,"s":"h","x":0.43,"y":0.83},{"p":4,"s":"h","x":0.45,"y":0.829},{"p":4,"s":"h","x":0.47,"y":0.83},{"p":4,"s":"h","x":0.49,"y":0.83},{"p":4,"s":"h","x":0.51,"y":0.83},{"p":4,"s":"h","x":0.53,"y":0.83},{"p":4,"s":"h","x":0.55,"y":0.828},{"p":4,"s":"h","x":0.57,"y":0.83},{"p":4,"s":"h","x":0.59,"y":0.83},{"p":4,"s":"h","x":0.61,"y":0.83},{"p":4,"s":"h","x":0.63,"y":0.83},{"p":4,"s":"h","x":0.65,"y":0.829},{"p":4,"s":"h","x":0.67,"y":0.83},{"p":4,"s":"h","x":0.69,"y":0.83},{"p":4,"s":"h","x":0.71,"y":0.83},{"p":4,"s":"h","x":0.73,"y":0.83},
{"p":4,"s":"m","x":0.35,"y":1.125},{"p":4,"s":"m","x":0.37,"y":1.125},{"p":4,"s":"m","x":0.39,"y":1.125},{"p":4,"s":"m","x":0.41,"y":1.124},{"p":4,"s":"m","x":0.43,"y":1.124},{"p":4,"s":"m","x":0.45,"y":1.123},{"p":4,"s":"m","x":0.47,"y":1.123},{"p":4,"s":"m","x":0.49,"y":1.123},{"p":4,"s":"m","x":0.51,"y":1.122},{"p":4,"s":"m","x":0.53,"y":1.122},{"p":4,"s":"m","x":0.55,"y":1.122},{"p":4,"s":"m","x":0.57,"y":1.122},{"p":4,"s":"m","x":0.59,"y":1.121},{"p":4,"s":"m","x":0.61,"y":1.121},{"p":4,"s":"m","x":0.63,"y":1.121},{"p":4,"s":"m","x":0.65,"y":1.121},{"p":4,"s":"m","x":0.67,"y":1.121},{"p":4,"s":"m","x":0.69,"y":1.12},{"p":4,"s":"m","x":0.71,"y":1.12},{"p":4,"s":"m","x":0.73,"y":1.12},
{"p":5,"s":"b","x":0.35,"y":1.467},{"p":5,"s":"b","x":0.37,"y":1.467},{"p":5,"s":"b","x":0.39,"y":1.467},{"p":5,"s":"b","x":0.41,"y":1.465},{"p":5,"s":"b","x":0.43,"y":1.462},{"p":5,"s":"b","x":0.45,"y":1.464},{"p":5,"s":"b","x":0.47,"y":1.463},{"p":5,"s":"b","x":0.49,"y":1.46},{"p":5,"s":"b","x":0.51,"y":1.455},{"p":5,"s":"b","x":0.53,"y":1.458},{"p":5,"s":"b","x":0.55,"y":1.459},{"p":5,"s":"b","x":0.57,"y":1.451},{"p":5,"s":"b","x":0.59,"y":1.446},{"p":5,"s":"b","x":0.61,"y":1.449},{"p":5,"s":"b","x":0.63,"y":1.448},{"p":5,"s":"b","x":0.65,"y":1.449},{"p":5,"s":"b","x":0.67,"y":1.448},{"p":5,"s":"b","x":0.69,"y":1.446},{"p":5,"s":"b","x":0.71,"y":1.445},{"p":5,"s":"b","x":0.73,"y":1.444},
{"p":5,"s":"j","x":0.35,"y":1.292},{"p":5,"s":"j","x":0.37,"y":1.291},{"p":5,"s":"j","x":0.39,"y":1.288},{"p":5,"s":"j","x":0.41,"y":1.288},{"p":5,"s":"j","x":0.43,"y":1.285},{"p":5,"s":"j","x":0.45,"y":1.284},{"p":5,"s":"j","x":0.47,"y":1.287},{"p":5,"s":"j","x":0.49,"y":1.284},{"p":5,"s":"j","x":0.51,"y":1.279},{"p":5,"s":"j","x":0.53,"y":1.281},{"p":5,"s":"j","x":0.55,"y":1.283},{"p":5,"s":"j","x":0.57,"y":1.281},{"p":5,"s":"j","x":0.59,"y":1.278},{"p":5,"s":"j","x":0.61,"y":1.279},{"p":5,"s":"j","x":0.63,"y":1.28},{"p":5,"s":"j","x":0.65,"y":1.275},{"p":5,"s":"j","x":0.67,"y":1.276},{"p":5,"s":"j","x":0.69,"y":1.281},{"p":5,"s":"j","x":0.71,"y":1.279},{"p":5,"s":"j","x":0.73,"y":1.281},
{"p":5,"s":"a","x":0.35,"y":1.287},{"p":5,"s":"a","x":0.37,"y":1.29},{"p":5,"s":"a","x":0.39,"y":1.278},{"p":5,"s":"a","x":0.41,"y":1.284},{"p":5,"s":"a","x":0.43,"y":1.284},{"p":5,"s":"a","x":0.45,"y":1.283},{"p":5,"s":"a","x":0.47,"y":1.284},{"p":5,"s":"a","x":0.49,"y":1.281},{"p":5,"s":"a","x":0.51,"y":1.276},{"p":5,"s":"a","x":0.53,"y":1.278},{"p":5,"s":"a","x":0.55,"y":1.282},{"p":5,"s":"a","x":0.57,"y":1.279},{"p":5,"s":"a","x":0.59,"y":1.279},{"p":5,"s":"a","x":0.61,"y":1.278},{"p":5,"s":"a","x":0.63,"y":1.276},{"p":5,"s":"a","x":0.65,"y":1.273},{"p":5,"s":"a","x":0.67,"y":1.273},{"p":5,"s":"a","x":0.69,"y":1.273},{"p":5,"s":"a","x":0.71,"y":1.272},{"p":5,"s":"a","x":0.73,"y":1.278},
{"p":5,"s":"c","x":0.35,"y":1.253},{"p":5,"s":"c","x":0.37,"y":1.251},{"p":5,"s":"c","x":0.39,"y":1.251},{"p":5,"s":"c","x":0.41,"y":1.249},{"p":5,"s":"c","x":0.43,"y":1.249},{"p":5,"s":"c","x":0.45,"y":1.25},{"p":5,"s":"c","x":0.47,"y":1.252},{"p":5,"s":"c","x":0.49,"y":1.25},{"p":5,"s":"c","x":0.51,"y":1.251},{"p":5,"s":"c","x":0.53,"y":1.248},{"p":5,"s":"c","x":0.55,"y":1.256},{"p":5,"s":"c","x":0.57,"y":1.257},{"p":5,"s":"c","x":0.59,"y":1.259},{"p":5,"s":"c","x":0.61,"y":1.258},{"p":5,"s":"c","x":0.63,"y":1.26},{"p":5,"s":"c","x":0.65,"y":1.258},{"p":5,"s":"c","x":0.67,"y":1.262},{"p":5,"s":"c","x":0.69,"y":1.268},{"p":5,"s":"c","x":0.71,"y":1.27},{"p":5,"s":"c","x":0.73,"y":1.274},
{"p":5,"s":"e","x":0.35,"y":1.24},{"p":5,"s":"e","x":0.37,"y":1.238},{"p":5,"s":"e","x":0.39,"y":1.236},{"p":5,"s":"e","x":0.41,"y":1.236},{"p":5,"s":"e","x":0.43,"y":1.235},{"p":5,"s":"e","x":0.45,"y":1.235},{"p":5,"s":"e","x":0.47,"y":1.232},{"p":5,"s":"e","x":0.49,"y":1.238},{"p":5,"s":"e","x":0.51,"y":1.232},{"p":5,"s":"e","x":0.53,"y":1.231},{"p":5,"s":"e","x":0.55,"y":1.233},{"p":5,"s":"e","x":0.57,"y":1.232},{"p":5,"s":"e","x":0.59,"y":1.231},{"p":5,"s":"e","x":0.61,"y":1.23},{"p":5,"s":"e","x":0.63,"y":1.232},{"p":5,"s":"e","x":0.65,"y":1.231},{"p":5,"s":"e","x":0.67,"y":1.231},{"p":5,"s":"e","x":0.69,"y":1.232},{"p":5,"s":"e","x":0.71,"y":1.231},{"p":5,"s":"e","x":0.73,"y":1.232},
{"p":5,"s":"f","x":0.35,"y":1.238},{"p":5,"s":"f","x":0.37,"y":1.24},{"p":5,"s":"f","x":0.39,"y":1.237},{"p":5,"s":"f","x":0.41,"y":1.237},{"p":5,"s":"f","x":0.43,"y":1.236},{"p":5,"s":"f","x":0.45,"y":1.237},{"p":5,"s":"f","x":0.47,"y":1.236},{"p":5,"s":"f","x":0.49,"y":1.234},{"p":5,"s":"f","x":0.51,"y":1.234},{"p":5,"s":"f","x":0.53,"y":1.233},{"p":5,"s":"f","x":0.55,"y":1.234},{"p":5,"s":"f","x":0.57,"y":1.234},{"p":5,"s":"f","x":0.59,"y":1.233},{"p":5,"s":"f","x":0.61,"y":1.232},{"p":5,"s":"f","x":0.63,"y":1.233},{"p":5,"s":"f","x":0.65,"y":1.234},{"p":5,"s":"f","x":0.67,"y":1.233},{"p":5,"s":"f","x":0.69,"y":1.233},{"p":5,"s":"f","x":0.71,"y":1.232},{"p":5,"s":"f","x":0.73,"y":1.233},
{"p":5,"s":"g","x":0.35,"y":1.236},{"p":5,"s":"g","x":0.37,"y":1.235},{"p":5,"s":"g","x":0.39,"y":1.232},{"p":5,"s":"g","x":0.41,"y":1.229},{"p":5,"s":"g","x":0.43,"y":1.228},{"p":5,"s":"g","x":0.45,"y":1.228},{"p":5,"s":"g","x":0.47,"y":1.228},{"p":5,"s":"g","x":0.49,"y":1.227},{"p":5,"s":"g","x":0.51,"y":1.226},{"p":5,"s":"g","x":0.53,"y":1.224},{"p":5,"s":"g","x":0.55,"y":1.227},{"p":5,"s":"g","x":0.57,"y":1.226},{"p":5,"s":"g","x":0.59,"y":1.222},{"p":5,"s":"g","x":0.61,"y":1.222},{"p":5,"s":"g","x":0.63,"y":1.23},{"p":5,"s":"g","x":0.65,"y":1.233},{"p":5,"s":"g","x":0.67,"y":1.232},{"p":5,"s":"g","x":0.69,"y":1.232},{"p":5,"s":"g","x":0.71,"y":1.231},{"p":5,"s":"g","x":0.73,"y":1.232},
{"p":5,"s":"d","x":0.35,"y":1.141},{"p":5,"s":"d","x":0.37,"y":1.139},{"p":5,"s":"d","x":0.39,"y":1.137},{"p":5,"s":"d","x":0.41,"y":1.138},{"p":5,"s":"d","x":0.43,"y":1.136},{"p":5,"s":"d","x":0.45,"y":1.135},{"p":5,"s":"d","x":0.47,"y":1.133},{"p":5,"s":"d","x":0.49,"y":1.133},{"p":5,"s":"d","x":0.51,"y":1.132},{"p":5,"s":"d","x":0.53,"y":1.129},{"p":5,"s":"d","x":0.55,"y":1.128},{"p":5,"s":"d","x":0.57,"y":1.128},{"p":5,"s":"d","x":0.59,"y":1.127},{"p":5,"s":"d","x":0.61,"y":1.127},{"p":5,"s":"d","x":0.63,"y":1.126},{"p":5,"s":"d","x":0.65,"y":1.127},{"p":5,"s":"d","x":0.67,"y":1.125},{"p":5,"s":"d","x":0.69,"y":1.125},{"p":5,"s":"d","x":0.71,"y":1.124},{"p":5,"s":"d","x":0.73,"y":1.124},
{"p":5,"s":"h","x":0.35,"y":1.065},{"p":5,"s":"h","x":0.37,"y":1.066},{"p":5,"s":"h","x":0.39,"y":1.069},{"p":5,"s":"h","x":0.41,"y":1.063},{"p":5,"s":"h","x":0.43,"y":1.067},{"p":5,"s":"h","x":0.45,"y":1.07},{"p":5,"s":"h","x":0.47,"y":1.069},{"p":5,"s":"h","x":0.49,"y":1.063},{"p":5,"s":"h","x":0.51,"y":1.066},{"p":5,"s":"h","x":0.53,"y":1.065},{"p":5,"s":"h","x":0.55,"y":1.063},{"p":5,"s":"h","x":0.57,"y":1.069},{"p":5,"s":"h","x":0.59,"y":1.064},{"p":5,"s":"h","x":0.61,"y":1.062},{"p":5,"s":"h","x":0.63,"y":1.064},{"p":5,"s":"h","x":0.65,"y":1.065},{"p":5,"s":"h","x":0.67,"y":1.066},{"p":5,"s":"h","x":0.69,"y":1.058},{"p":5,"s":"h","x":0.71,"y":1.064},{"p":5,"s":"h","x":0.73,"y":1.062},
{"p":5,"s":"i","x":0.35,"y":1.062},{"p":5,"s":"i","x":0.37,"y":1.064},{"p":5,"s":"i","x":0.39,"y":1.067},{"p":5,"s":"i","x":0.41,"y":1.062},{"p":5,"s":"i","x":0.43,"y":1.064},{"p":5,"s":"i","x":0.45,"y":1.067},{"p":5,"s":"i","x":0.47,"y":1.068},{"p":5,"s":"i","x":0.49,"y":1.06},{"p":5,"s":"i","x":0.51,"y":1.06},{"p":5,"s":"i","x":0.53,"y":1.059},{"p":5,"s":"i","x":0.55,"y":1.059},{"p":5,"s":"i","x":0.57,"y":1.061},{"p":5,"s":"i","x":0.59,"y":1.061},{"p":5,"s":"i","x":0.61,"y":1.06},{"p":5,"s":"i","x":0.63,"y":1.06},{"p":5,"s":"i","x":0.65,"y":1.053},{"p":5,"s":"i","x":0.67,"y":1.054},{"p":5,"s":"i","x":0.69,"y":1.058},{"p":5,"s":"i","x":0.71,"y":1.062},{"p":5,"s":"i","x":0.73,"y":1.059},
{"p":5,"s":"m","x":0.35,"y":1.232},{"p":5,"s":"m","x":0.37,"y":1.231},{"p":5,"s":"m","x":0.39,"y":1.229},{"p":5,"s":"m","x":0.41,"y":1.228},{"p":5,"s":"m","x":0.43,"y":1.226},{"p":5,"s":"m","x":0.45,"y":1.226},{"p":5,"s":"m","x":0.47,"y":1.226},{"p":5,"s":"m","x":0.49,"y":1.226},{"p":5,"s":"m","x":0.51,"y":1.225},{"p":5,"s":"m","x":0.53,"y":1.222},{"p":5,"s":"m","x":0.55,"y":1.224},{"p":5,"s":"m","x":0.57,"y":1.224},{"p":5,"s":"m","x":0.59,"y":1.222},{"p":5,"s":"m","x":0.61,"y":1.222},{"p":5,"s":"m","x":0.63,"y":1.223},{"p":5,"s":"m","x":0.65,"y":1.223},{"p":5,"s":"m","x":0.67,"y":1.223},{"p":5,"s":"m","x":0.69,"y":1.223},{"p":5,"s":"m","x":0.71,"y":1.223},{"p":5,"s":"m","x":0.73,"y":1.223},
{"p":6,"s":"j","x":0.35,"y":1.438},{"p":6,"s":"j","x":0.37,"y":1.437},{"p":6,"s":"j","x":0.39,"y":1.438},{"p":6,"s":"j","x":0.41,"y":1.433},{"p":6,"s":"j","x":0.43,"y":1.433},{"p":6,"s":"j","x":0.45,"y":1.432},{"p":6,"s":"j","x":0.47,"y":1.428},{"p":6,"s":"j","x":0.49,"y":1.431},{"p":6,"s":"j","x":0.51,"y":1.43},{"p":6,"s":"j","x":0.53,"y":1.425},{"p":6,"s":"j","x":0.55,"y":1.429},{"p":6,"s":"j","x":0.57,"y":1.423},{"p":6,"s":"j","x":0.59,"y":1.42},{"p":6,"s":"j","x":0.61,"y":1.425},{"p":6,"s":"j","x":0.63,"y":1.423},{"p":6,"s":"j","x":0.65,"y":1.423},{"p":6,"s":"j","x":0.67,"y":1.424},{"p":6,"s":"j","x":0.69,"y":1.419},{"p":6,"s":"j","x":0.71,"y":1.415},{"p":6,"s":"j","x":0.73,"y":1.424},
{"p":6,"s":"g","x":0.35,"y":1.38},{"p":6,"s":"g","x":0.37,"y":1.382},{"p":6,"s":"g","x":0.39,"y":1.377},{"p":6,"s":"g","x":0.41,"y":1.379},{"p":6,"s":"g","x":0.43,"y":1.376},{"p":6,"s":"g","x":0.45,"y":1.377},{"p":6,"s":"g","x":0.47,"y":1.379},{"p":6,"s":"g","x":0.49,"y":1.38},{"p":6,"s":"g","x":0.51,"y":1.381},{"p":6,"s":"g","x":0.53,"y":1.38},{"p":6,"s":"g","x":0.55,"y":1.384},{"p":6,"s":"g","x":0.57,"y":1.382},{"p":6,"s":"g","x":0.59,"y":1.382},{"p":6,"s":"g","x":0.61,"y":1.384},{"p":6,"s":"g","x":0.63,"y":1.383},{"p":6,"s":"g","x":0.65,"y":1.384},{"p":6,"s":"g","x":0.67,"y":1.386},{"p":6,"s":"g","x":0.69,"y":1.383},{"p":6,"s":"g","x":0.71,"y":1.386},{"p":6,"s":"g","x":0.73,"y":1.389},
{"p":6,"s":"a","x":0.35,"y":1.339},{"p":6,"s":"a","x":0.37,"y":1.335},{"p":6,"s":"a","x":0.39,"y":1.336},{"p":6,"s":"a","x":0.41,"y":1.335},{"p":6,"s":"a","x":0.43,"y":1.334},{"p":6,"s":"a","x":0.45,"y":1.333},{"p":6,"s":"a","x":0.47,"y":1.338},{"p":6,"s":"a","x":0.49,"y":1.333},{"p":6,"s":"a","x":0.51,"y":1.322},{"p":6,"s":"a","x":0.53,"y":1.331},{"p":6,"s":"a","x":0.55,"y":1.332},{"p":6,"s":"a","x":0.57,"y":1.328},{"p":6,"s":"a","x":0.59,"y":1.329},{"p":6,"s":"a","x":0.61,"y":1.329},{"p":6,"s":"a","x":0.63,"y":1.331},{"p":6,"s":"a","x":0.65,"y":1.323},{"p":6,"s":"a","x":0.67,"y":1.329},{"p":6,"s":"a","x":0.69,"y":1.329},{"p":6,"s":"a","x":0.71,"y":1.326},{"p":6,"s":"a","x":0.73,"y":1.331},
{"p":6,"s":"b","x":0.35,"y":1.323},{"p":6,"s":"b","x":0.37,"y":1.323},{"p":6,"s":"b","x":0.39,"y":1.322},{"p":6,"s":"b","x":0.41,"y":1.32},{"p":6,"s":"b","x":0.43,"y":1.319},{"p":6,"s":"b","x":0.45,"y":1.319},{"p":6,"s":"b","x":0.47,"y":1.318},{"p":6,"s":"b","x":0.49,"y":1.316},{"p":6,"s":"b","x":0.51,"y":1.315},{"p":6,"s":"b","x":0.53,"y":1.315},{"p":6,"s":"b","x":0.55,"y":1.307},{"p":6,"s":"b","x":0.57,"y":1.311},{"p":6,"s":"b","x":0.59,"y":1.313},{"p":6,"s":"b","x":0.61,"y":1.309},{"p":6,"s":"b","x":0.63,"y":1.311},{"p":6,"s":"b","x":0.65,"y":1.306},{"p":6,"s":"b","x":0.67,"y":1.307},{"p":6,"s":"b","x":0.69,"y":1.307},{"p":6,"s":"b","x":0.71,"y":1.304},{"p":6,"s":"b","x":0.73,"y":1.307},
{"p":6,"s":"d","x":0.35,"y":1.267},{"p":6,"s":"d","x":0.37,"y":1.258},{"p":6,"s":"d","x":0.39,"y":1.262},{"p":6,"s":"d","x":0.41,"y":1.258},{"p":6,"s":"d","x":0.43,"y":1.27},{"p":6,"s":"d","x":0.45,"y":1.261},{"p":6,"s":"d","x":0.47,"y":1.263},{"p":6,"s":"d","x":0.49,"y":1.26},{"p":6,"s":"d","x":0.51,"y":1.26},{"p":6,"s":"d","x":0.53,"y":1.26},{"p":6,"s":"d","x":0.55,"y":1.26},{"p":6,"s":"d","x":0.57,"y":1.252},{"p":6,"s":"d","x":0.59,"y":1.255},{"p":6,"s":"d","x":0.61,"y":1.259},{"p":6,"s":"d","x":0.63,"y":1.259},{"p":6,"s":"d","x":0.65,"y":1.258},{"p":6,"s":"d","x":0.67,"y":1.249},{"p":6,"s":"d","x":0.69,"y":1.25},{"p":6,"s":"d","x":0.71,"y":1.258},{"p":6,"s":"d","x":0.73,"y":1.252},
{"p":6,"s":"h","x":0.35,"y":1.158},{"p":6,"s":"h","x":0.37,"y":1.155},{"p":6,"s":"h","x":0.39,"y":1.158},{"p":6,"s":"h","x":0.41,"y":1.155},{"p":6,"s":"h","x":0.43,"y":1.157},{"p":6,"s":"h","x":0.45,"y":1.158},{"p":6,"s":"h","x":0.47,"y":1.161},{"p":6,"s":"h","x":0.49,"y":1.164},{"p":6,"s":"h","x":0.51,"y":1.168},{"p":6,"s":"h","x":0.53,"y":1.168},{"p":6,"s":"h","x":0.55,"y":1.171},{"p":6,"s":"h","x":0.57,"y":1.18},{"p":6,"s":"h","x":0.59,"y":1.178},{"p":6,"s":"h","x":0.61,"y":1.181},{"p":6,"s":"h","x":0.63,"y":1.185},{"p":6,"s":"h","x":0.65,"y":1.185},{"p":6,"s":"h","x":0.67,"y":1.19},{"p":6,"s":"h","x":0.69,"y":1.19},{"p":6,"s":"h","x":0.71,"y":1.194},{"p":6,"s":"h","x":0.73,"y":1.199},
{"p":6,"s":"c","x":0.35,"y":1.131},{"p":6,"s":"c","x":0.37,"y":1.131},{"p":6,"s":"c","x":0.39,"y":1.129},{"p":6,"s":"c","x":0.41,"y":1.129},{"p":6,"s":"c","x":0.43,"y":1.128},{"p":6,"s":"c","x":0.45,"y":1.128},{"p":6,"s":"c","x":0.47,"y":1.13},{"p":6,"s":"c","x":0.49,"y":1.134},{"p":6,"s":"c","x":0.51,"y":1.127},{"p":6,"s":"c","x":0.53,"y":1.125},{"p":6,"s":"c","x":0.55,"y":1.123},{"p":6,"s":"c","x":0.57,"y":1.118},{"p":6,"s":"c","x":0.59,"y":1.119},{"p":6,"s":"c","x":0.61,"y":1.122},{"p":6,"s":"c","x":0.63,"y":1.128},{"p":6,"s":"c","x":0.65,"y":1.124},{"p":6,"s":"c","x":0.67,"y":1.119},{"p":6,"s":"c","x":0.69,"y":1.122},{"p":6,"s":"c","x":0.71,"y":1.121},{"p":6,"s":"c","x":0.73,"y":1.119},
{"p":6,"s":"i","x":0.35,"y":1.113},{"p":6,"s":"i","x":0.37,"y":1.116},{"p":6,"s":"i","x":0.39,"y":1.118},{"p":6,"s":"i","x":0.41,"y":1.117},{"p":6,"s":"i","x":0.43,"y":1.118},{"p":6,"s":"i","x":0.45,"y":1.117},{"p":6,"s":"i","x":0.47,"y":1.116},{"p":6,"s":"i","x":0.49,"y":1.113},{"p":6,"s":"i","x":0.51,"y":1.112},{"p":6,"s":"i","x":0.53,"y":1.114},{"p":6,"s":"i","x":0.55,"y":1.112},{"p":6,"s":"i","x":0.57,"y":1.111},{"p":6,"s":"i","x":0.59,"y":1.11},{"p":6,"s":"i","x":0.61,"y":1.11},{"p":6,"s":"i","x":0.63,"y":1.109},{"p":6,"s":"i","x":0.65,"y":1.109},{"p":6,"s":"i","x":0.67,"y":1.108},{"p":6,"s":"i","x":0.69,"y":1.109},{"p":6,"s":"i","x":0.71,"y":1.108},{"p":6,"s":"i","x":0.73,"y":1.107},
{"p":6,"s":"e","x":0.35,"y":0.997},{"p":6,"s":"e","x":0.37,"y":0.997},{"p":6,"s":"e","x":0.39,"y":0.995},{"p":6,"s":"e","x":0.41,"y":0.99},{"p":6,"s":"e","x":0.43,"y":0.99},{"p":6,"s":"e","x":0.45,"y":0.992},{"p":6,"s":"e","x":0.47,"y":0.993},{"p":6,"s":"e","x":0.49,"y":0.991},{"p":6,"s":"e","x":0.51,"y":0.99},{"p":6,"s":"e","x":0.53,"y":0.99},{"p":6,"s":"e","x":0.55,"y":0.994},{"p":6,"s":"e","x":0.57,"y":0.991},{"p":6,"s":"e","x":0.59,"y":0.991},{"p":6,"s":"e","x":0.61,"y":0.991},{"p":6,"s":"e","x":0.63,"y":0.989},{"p":6,"s":"e","x":0.65,"y":0.991},{"p":6,"s":"e","x":0.67,"y":0.991},{"p":6,"s":"e","x":0.69,"y":0.99},{"p":6,"s":"e","x":0.71,"y":0.99},{"p":6,"s":"e","x":0.73,"y":0.991},
{"p":6,"s":"f","x":0.35,"y":0.962},{"p":6,"s":"f","x":0.37,"y":0.963},{"p":6,"s":"f","x":0.39,"y":0.962},{"p":6,"s":"f","x":0.41,"y":0.96},{"p":6,"s":"f","x":0.43,"y":0.962},{"p":6,"s":"f","x":0.45,"y":0.96},{"p":6,"s":"f","x":0.47,"y":0.963},{"p":6,"s":"f","x":0.49,"y":0.96},{"p":6,"s":"f","x":0.51,"y":0.959},{"p":6,"s":"f","x":0.53,"y":0.958},{"p":6,"s":"f","x":0.55,"y":0.962},{"p":6,"s":"f","x":0.57,"y":0.962},{"p":6,"s":"f","x":0.59,"y":0.96},{"p":6,"s":"f","x":0.61,"y":0.959},{"p":6,"s":"f","x":0.63,"y":0.96},{"p":6,"s":"f","x":0.65,"y":0.959},{"p":6,"s":"f","x":0.67,"y":0.96},{"p":6,"s":"f","x":0.69,"y":0.959},{"p":6,"s":"f","x":0.71,"y":0.96},{"p":6,"s":"f","x":0.73,"y":0.959},
{"p":6,"s":"m","x":0.35,"y":1.21},{"p":6,"s":"m","x":0.37,"y":1.209},{"p":6,"s":"m","x":0.39,"y":1.208},{"p":6,"s":"m","x":0.41,"y":1.207},{"p":6,"s":"m","x":0.43,"y":1.207},{"p":6,"s":"m","x":0.45,"y":1.207},{"p":6,"s":"m","x":0.47,"y":1.207},{"p":6,"s":"m","x":0.49,"y":1.207},{"p":6,"s":"m","x":0.51,"y":1.206},{"p":6,"s":"m","x":0.53,"y":1.206},{"p":6,"s":"m","x":0.55,"y":1.207},{"p":6,"s":"m","x":0.57,"y":1.206},{"p":6,"s":"m","x":0.59,"y":1.206},{"p":6,"s":"m","x":0.61,"y":1.206},{"p":6,"s":"m","x":0.63,"y":1.206},{"p":6,"s":"m","x":0.65,"y":1.206},{"p":6,"s":"m","x":0.67,"y":1.206},{"p":6,"s":"m","x":0.69,"y":1.206},{"p":6,"s":"m","x":0.71,"y":1.206},{"p":6,"s":"m","x":0.73,"y":1.206},
{"p":7,"s":"h","x":0.35,"y":0.943},{"p":7,"s":"h","x":0.37,"y":0.942},{"p":7,"s":"h","x":0.39,"y":0.943},{"p":7,"s":"h","x":0.41,"y":0.942},{"p":7,"s":"h","x":0.43,"y":0.943},{"p":7,"s":"h","x":0.45,"y":0.943},{"p":7,"s":"h","x":0.47,"y":0.944},{"p":7,"s":"h","x":0.49,"y":0.943},{"p":7,"s":"h","x":0.51,"y":0.945},{"p":7,"s":"h","x":0.53,"y":0.944},{"p":7,"s":"h","x":0.55,"y":0.944},{"p":7,"s":"h","x":0.57,"y":0.944},{"p":7,"s":"h","x":0.59,"y":0.944},{"p":7,"s":"h","x":0.61,"y":0.944},{"p":7,"s":"h","x":0.63,"y":0.943},{"p":7,"s":"h","x":0.65,"y":0.945},{"p":7,"s":"h","x":0.67,"y":0.946},{"p":7,"s":"h","x":0.69,"y":0.945},{"p":7,"s":"h","x":0.71,"y":0.945},{"p":7,"s":"h","x":0.73,"y":0.945},
{"p":7,"s":"i","x":0.35,"y":0.517},{"p":7,"s":"i","x":0.37,"y":0.519},{"p":7,"s":"i","x":0.39,"y":0.517},{"p":7,"s":"i","x":0.41,"y":0.519},{"p":7,"s":"i","x":0.43,"y":0.518},{"p":7,"s":"i","x":0.45,"y":0.518},{"p":7,"s":"i","x":0.47,"y":0.518},{"p":7,"s":"i","x":0.49,"y":0.519},{"p":7,"s":"i","x":0.51,"y":0.517},{"p":7,"s":"i","x":0.53,"y":0.518},{"p":7,"s":"i","x":0.55,"y":0.521},{"p":7,"s":"i","x":0.57,"y":0.525},{"p":7,"s":"i","x":0.59,"y":0.515},{"p":7,"s":"i","x":0.61,"y":0.515},{"p":7,"s":"i","x":0.63,"y":0.517},{"p":7,"s":"i","x":0.65,"y":0.518},{"p":7,"s":"i","x":0.67,"y":0.518},{"p":7,"s":"i","x":0.69,"y":0.517},{"p":7,"s":"i","x":0.71,"y":0.519},{"p":7,"s":"i","x":0.73,"y":0.518},
{"p":7,"s":"c","x":0.35,"y":0.195},{"p":7,"s":"c","x":0.37,"y":0.194},{"p":7,"s":"c","x":0.39,"y":0.196},{"p":7,"s":"c","x":0.41,"y":0.193},{"p":7,"s":"c","x":0.43,"y":0.19},{"p":7,"s":"c","x":0.45,"y":0.193},{"p":7,"s":"c","x":0.47,"y":0.19},{"p":7,"s":"c","x":0.49,"y":0.188},{"p":7,"s":"c","x":0.51,"y":0.187},{"p":7,"s":"c","x":0.53,"y":0.187},{"p":7,"s":"c","x":0.55,"y":0.188},{"p":7,"s":"c","x":0.57,"y":0.189},{"p":7,"s":"c","x":0.59,"y":0.188},{"p":7,"s":"c","x":0.61,"y":0.186},{"p":7,"s":"c","x":0.63,"y":0.187},{"p":7,"s":"c","x":0.65,"y":0.187},{"p":7,"s":"c","x":0.67,"y":0.186},{"p":7,"s":"c","x":0.69,"y":0.186},{"p":7,"s":"c","x":0.71,"y":0.185},{"p":7,"s":"c","x":0.73,"y":0.184},
{"p":7,"s":"a","x":0.35,"y":0.188},{"p":7,"s":"a","x":0.37,"y":0.187},{"p":7,"s":"a","x":0.39,"y":0.188},{"p":7,"s":"a","x":0.41,"y":0.185},{"p":7,"s":"a","x":0.43,"y":0.186},{"p":7,"s":"a","x":0.45,"y":0.188},{"p":7,"s":"a","x":0.47,"y":0.186},{"p":7,"s":"a","x":0.49,"y":0.182},{"p":7,"s":"a","x":0.51,"y":0.182},{"p":7,"s":"a","x":0.53,"y":0.183},{"p":7,"s":"a","x":0.55,"y":0.183},{"p":7,"s":"a","x":0.57,"y":0.182},{"p":7,"s":"a","x":0.59,"y":0.18},{"p":7,"s":"a","x":0.61,"y":0.181},{"p":7,"s":"a","x":0.63,"y":0.182},{"p":7,"s":"a","x":0.65,"y":0.182},{"p":7,"s":"a","x":0.67,"y":0.181},{"p":7,"s":"a","x":0.69,"y":0.18},{"p":7,"s":"a","x":0.71,"y":0.18},{"p":7,"s":"a","x":0.73,"y":0.179},
{"p":7,"s":"f","x":0.35,"y":0.176},{"p":7,"s":"f","x":0.37,"y":0.175},{"p":7,"s":"f","x":0.39,"y":0.176},{"p":7,"s":"f","x":0.41,"y":0.174},{"p":7,"s":"f","x":0.43,"y":0.174},{"p":7,"s":"f","x":0.45,"y":0.175},{"p":7,"s":"f","x":0.47,"y":0.176},{"p":7,"s":"f","x":0.49,"y":0.173},{"p":7,"s":"f","x":0.51,"y":0.174},{"p":7,"s":"f","x":0.53,"y":0.175},{"p":7,"s":"f","x":0.55,"y":0.174},{"p":7,"s":"f","x":0.57,"y":0.173},{"p":7,"s":"f","x":0.59,"y":0.173},{"p":7,"s":"f","x":0.61,"y":0.174},{"p":7,"s":"f","x":0.63,"y":0.173},{"p":7,"s":"f","x":0.65,"y":0.174},{"p":7,"s":"f","x":0.67,"y":0.173},{"p":7,"s":"f","x":0.69,"y":0.172},{"p":7,"s":"f","x":0.71,"y":0.173},{"p":7,"s":"f","x":0.73,"y":0.172},
{"p":7,"s":"e","x":0.35,"y":0.17},{"p":7,"s":"e","x":0.37,"y":0.168},{"p":7,"s":"e","x":0.39,"y":0.169},{"p":7,"s":"e","x":0.41,"y":0.166},{"p":7,"s":"e","x":0.43,"y":0.166},{"p":7,"s":"e","x":0.45,"y":0.167},{"p":7,"s":"e","x":0.47,"y":0.168},{"p":7,"s":"e","x":0.49,"y":0.164},{"p":7,"s":"e","x":0.51,"y":0.166},{"p":7,"s":"e","x":0.53,"y":0.165},{"p":7,"s":"e","x":0.55,"y":0.166},{"p":7,"s":"e","x":0.57,"y":0.164},{"p":7,"s":"e","x":0.59,"y":0.165},{"p":7,"s":"e","x":0.61,"y":0.163},{"p":7,"s":"e","x":0.63,"y":0.164},{"p":7,"s":"e","x":0.65,"y":0.164},{"p":7,"s":"e","x":0.67,"y":0.164},{"p":7,"s":"e","x":0.69,"y":0.163},{"p":7,"s":"e","x":0.71,"y":0.164},{"p":7,"s":"e","x":0.73,"y":0.163},
{"p":7,"s":"j","x":0.35,"y":0.135},{"p":7,"s":"j","x":0.37,"y":0.14},{"p":7,"s":"j","x":0.39,"y":0.138},{"p":7,"s":"j","x":0.41,"y":0.137},{"p":7,"s":"j","x":0.43,"y":0.138},{"p":7,"s":"j","x":0.45,"y":0.137},{"p":7,"s":"j","x":0.47,"y":0.14},{"p":7,"s":"j","x":0.49,"y":0.136},{"p":7,"s":"j","x":0.51,"y":0.138},{"p":7,"s":"j","x":0.53,"y":0.137},{"p":7,"s":"j","x":0.55,"y":0.139},{"p":7,"s":"j","x":0.57,"y":0.136},{"p":7,"s":"j","x":0.59,"y":0.138},{"p":7,"s":"j","x":0.61,"y":0.137},{"p":7,"s":"j","x":0.63,"y":0.14},{"p":7,"s":"j","x":0.65,"y":0.138},{"p":7,"s":"j","x":0.67,"y":0.137},{"p":7,"s":"j","x":0.69,"y":0.139},{"p":7,"s":"j","x":0.71,"y":0.136},{"p":7,"s":"j","x":0.73,"y":0.137},
{"p":7,"s":"b","x":0.35,"y":0.112},{"p":7,"s":"b","x":0.37,"y":0.113},{"p":7,"s":"b","x":0.39,"y":0.112},{"p":7,"s":"b","x":0.41,"y":0.113},{"p":7,"s":"b","x":0.43,"y":0.112},{"p":7,"s":"b","x":0.45,"y":0.111},{"p":7,"s":"b","x":0.47,"y":0.108},{"p":7,"s":"b","x":0.49,"y":0.112},{"p":7,"s":"b","x":0.51,"y":0.111},{"p":7,"s":"b","x":0.53,"y":0.108},{"p":7,"s":"b","x":0.55,"y":0.11},{"p":7,"s":"b","x":0.57,"y":0.109},{"p":7,"s":"b","x":0.59,"y":0.107},{"p":7,"s":"b","x":0.61,"y":0.109},{"p":7,"s":"b","x":0.63,"y":0.11},{"p":7,"s":"b","x":0.65,"y":0.109},{"p":7,"s":"b","x":0.67,"y":0.11},{"p":7,"s":"b","x":0.69,"y":0.108},{"p":7,"s":"b","x":0.71,"y":0.108},{"p":7,"s":"b","x":0.73,"y":0.109},
{"p":7,"s":"g","x":0.35,"y":0.1},{"p":7,"s":"g","x":0.37,"y":0.1},{"p":7,"s":"g","x":0.39,"y":0.1},{"p":7,"s":"g","x":0.41,"y":0.101},{"p":7,"s":"g","x":0.43,"y":0.101},{"p":7,"s":"g","x":0.45,"y":0.1},{"p":7,"s":"g","x":0.47,"y":0.098},{"p":7,"s":"g","x":0.49,"y":0.1},{"p":7,"s":"g","x":0.51,"y":0.099},{"p":7,"s":"g","x":0.53,"y":0.098},{"p":7,"s":"g","x":0.55,"y":0.099},{"p":7,"s":"g","x":0.57,"y":0.099},{"p":7,"s":"g","x":0.59,"y":0.097},{"p":7,"s":"g","x":0.61,"y":0.098},{"p":7,"s":"g","x":0.63,"y":0.099},{"p":7,"s":"g","x":0.65,"y":0.098},{"p":7,"s":"g","x":0.67,"y":0.098},{"p":7,"s":"g","x":0.69,"y":0.097},{"p":7,"s":"g","x":0.71,"y":0.099},{"p":7,"s":"g","x":0.73,"y":0.097},
{"p":7,"s":"d","x":0.35,"y":0.074},{"p":7,"s":"d","x":0.37,"y":0.073},{"p":7,"s":"d","x":0.39,"y":0.074},{"p":7,"s":"d","x":0.41,"y":0.073},{"p":7,"s":"d","x":0.43,"y":0.074},{"p":7,"s":"d","x":0.45,"y":0.074},{"p":7,"s":"d","x":0.47,"y":0.073},{"p":7,"s":"d","x":0.49,"y":0.074},{"p":7,"s":"d","x":0.51,"y":0.073},{"p":7,"s":"d","x":0.53,"y":0.073},{"p":7,"s":"d","x":0.55,"y":0.077},{"p":7,"s":"d","x":0.57,"y":0.074},{"p":7,"s":"d","x":0.59,"y":0.074},{"p":7,"s":"d","x":0.61,"y":0.072},{"p":7,"s":"d","x":0.63,"y":0.074},{"p":7,"s":"d","x":0.65,"y":0.073},{"p":7,"s":"d","x":0.67,"y":0.072},{"p":7,"s":"d","x":0.69,"y":0.074},{"p":7,"s":"d","x":0.71,"y":0.074},{"p":7,"s":"d","x":0.73,"y":0.073},
{"p":7,"s":"m","x":0.35,"y":0.262},{"p":7,"s":"m","x":0.37,"y":0.262},{"p":7,"s":"m","x":0.39,"y":0.262},{"p":7,"s":"m","x":0.41,"y":0.262},{"p":7,"s":"m","x":0.43,"y":0.262},{"p":7,"s":"m","x":0.45,"y":0.262},{"p":7,"s":"m","x":0.47,"y":0.262},{"p":7,"s":"m","x":0.49,"y":0.262},{"p":7,"s":"m","x":0.51,"y":0.262},{"p":7,"s":"m","x":0.53,"y":0.262},{"p":7,"s":"m","x":0.55,"y":0.262},{"p":7,"s":"m","x":0.57,"y":0.262},{"p":7,"s":"m","x":0.59,"y":0.261},{"p":7,"s":"m","x":0.61,"y":0.261},{"p":7,"s":"m","x":0.63,"y":0.261},{"p":7,"s":"m","x":0.65,"y":0.261},{"p":7,"s":"m","x":0.67,"y":0.261},{"p":7,"s":"m","x":0.69,"y":0.261},{"p":7,"s":"m","x":0.71,"y":0.261},{"p":7,"s":"m","x":0.73,"y":0.26},
{"p":8,"s":"d","x":0.35,"y":0.321},{"p":8,"s":"d","x":0.37,"y":0.317},{"p":8,"s":"d","x":0.39,"y":0.308},{"p":8,"s":"d","x":0.41,"y":0.315},{"p":8,"s":"d","x":0.43,"y":0.316},{"p":8,"s":"d","x":0.45,"y":0.31},{"p":8,"s":"d","x":0.47,"y":0.312},{"p":8,"s":"d","x":0.49,"y":0.313},{"p":8,"s":"d","x":0.51,"y":0.315},{"p":8,"s":"d","x":0.53,"y":0.31},{"p":8,"s":"d","x":0.55,"y":0.313},{"p":8,"s":"d","x":0.57,"y":0.313},{"p":8,"s":"d","x":0.59,"y":0.31},{"p":8,"s":"d","x":0.61,"y":0.312},{"p":8,"s":"d","x":0.63,"y":0.313},{"p":8,"s":"d","x":0.65,"y":0.317},{"p":8,"s":"d","x":0.67,"y":0.318},{"p":8,"s":"d","x":0.69,"y":0.319},{"p":8,"s":"d","x":0.71,"y":0.324},{"p":8,"s":"d","x":0.73,"y":0.321},
{"p":8,"s":"h","x":0.35,"y":0.13},{"p":8,"s":"h","x":0.37,"y":0.13},{"p":8,"s":"h","x":0.39,"y":0.126},{"p":8,"s":"h","x":0.41,"y":0.131},{"p":8,"s":"h","x":0.43,"y":0.127},{"p":8,"s":"h","x":0.45,"y":0.125},{"p":8,"s":"h","x":0.47,"y":0.126},{"p":8,"s":"h","x":0.49,"y":0.124},{"p":8,"s":"h","x":0.51,"y":0.124},{"p":8,"s":"h","x":0.53,"y":0.125},{"p":8,"s":"h","x":0.55,"y":0.124},{"p":8,"s":"h","x":0.57,"y":0.124},{"p":8,"s":"h","x":0.59,"y":0.126},{"p":8,"s":"h","x":0.61,"y":0.124},{"p":8,"s":"h","x":0.63,"y":0.125},{"p":8,"s":"h","x":0.65,"y":0.123},{"p":8,"s":"h","x":0.67,"y":0.122},{"p":8,"s":"h","x":0.69,"y":0.126},{"p":8,"s":"h","x":0.71,"y":0.123},{"p":8,"s":"h","x":0.73,"y":0.126},
{"p":8,"s":"c","x":0.35,"y":0.107},{"p":8,"s":"c","x":0.37,"y":0.106},{"p":8,"s":"c","x":0.39,"y":0.107},{"p":8,"s":"c","x":0.41,"y":0.102},{"p":8,"s":"c","x":0.43,"y":0.107},{"p":8,"s":"c","x":0.45,"y":0.105},{"p":8,"s":"c","x":0.47,"y":0.102},{"p":8,"s":"c","x":0.49,"y":0.102},{"p":8,"s":"c","x":0.51,"y":0.105},{"p":8,"s":"c","x":0.53,"y":0.102},{"p":8,"s":"c","x":0.55,"y":0.102},{"p":8,"s":"c","x":0.57,"y":0.102},{"p":8,"s":"c","x":0.59,"y":0.103},{"p":8,"s":"c","x":0.61,"y":0.097},{"p":8,"s":"c","x":0.63,"y":0.097},{"p":8,"s":"c","x":0.65,"y":0.098},{"p":8,"s":"c","x":0.67,"y":0.1},{"p":8,"s":"c","x":0.69,"y":0.098},{"p":8,"s":"c","x":0.71,"y":0.096},{"p":8,"s":"c","x":0.73,"y":0.101},
{"p":8,"s":"b","x":0.35,"y":0.068},{"p":8,"s":"b","x":0.37,"y":0.071},{"p":8,"s":"b","x":0.39,"y":0.07},{"p":8,"s":"b","x":0.41,"y":0.071},{"p":8,"s":"b","x":0.43,"y":0.072},{"p":8,"s":"b","x":0.45,"y":0.076},{"p":8,"s":"b","x":0.47,"y":0.078},{"p":8,"s":"b","x":0.49,"y":0.075},{"p":8,"s":"b","x":0.51,"y":0.072},{"p":8,"s":"b","x":0.53,"y":0.071},{"p":8,"s":"b","x":0.55,"y":0.071},{"p":8,"s":"b","x":0.57,"y":0.071},{"p":8,"s":"b","x":0.59,"y":0.072},{"p":8,"s":"b","x":0.61,"y":0.071},{"p":8,"s":"b","x":0.63,"y":0.07},{"p":8,"s":"b","x":0.65,"y":0.07},{"p":8,"s":"b","x":0.67,"y":0.07},{"p":8,"s":"b","x":0.69,"y":0.072},{"p":8,"s":"b","x":0.71,"y":0.066},{"p":8,"s":"b","x":0.73,"y":0.068},
{"p":8,"s":"e","x":0.35,"y":0.07},{"p":8,"s":"e","x":0.37,"y":0.068},{"p":8,"s":"e","x":0.39,"y":0.067},{"p":8,"s":"e","x":0.41,"y":0.068},{"p":8,"s":"e","x":0.43,"y":0.069},{"p":8,"s":"e","x":0.45,"y":0.067},{"p":8,"s":"e","x":0.47,"y":0.066},{"p":8,"s":"e","x":0.49,"y":0.066},{"p":8,"s":"e","x":0.51,"y":0.067},{"p":8,"s":"e","x":0.53,"y":0.066},{"p":8,"s":"e","x":0.55,"y":0.066},{"p":8,"s":"e","x":0.57,"y":0.066},{"p":8,"s":"e","x":0.59,"y":0.066},{"p":8,"s":"e","x":0.61,"y":0.066},{"p":8,"s":"e","x":0.63,"y":0.066},{"p":8,"s":"e","x":0.65,"y":0.065},{"p":8,"s":"e","x":0.67,"y":0.066},{"p":8,"s":"e","x":0.69,"y":0.066},{"p":8,"s":"e","x":0.71,"y":0.064},{"p":8,"s":"e","x":0.73,"y":0.063},
{"p":8,"s":"f","x":0.35,"y":0.069},{"p":8,"s":"f","x":0.37,"y":0.066},{"p":8,"s":"f","x":0.39,"y":0.065},{"p":8,"s":"f","x":0.41,"y":0.064},{"p":8,"s":"f","x":0.43,"y":0.068},{"p":8,"s":"f","x":0.45,"y":0.064},{"p":8,"s":"f","x":0.47,"y":0.063},{"p":8,"s":"f","x":0.49,"y":0.064},{"p":8,"s":"f","x":0.51,"y":0.065},{"p":8,"s":"f","x":0.53,"y":0.063},{"p":8,"s":"f","x":0.55,"y":0.064},{"p":8,"s":"f","x":0.57,"y":0.063},{"p":8,"s":"f","x":0.59,"y":0.063},{"p":8,"s":"f","x":0.61,"y":0.064},{"p":8,"s":"f","x":0.63,"y":0.066},{"p":8,"s":"f","x":0.65,"y":0.063},{"p":8,"s":"f","x":0.67,"y":0.063},{"p":8,"s":"f","x":0.69,"y":0.063},{"p":8,"s":"f","x":0.71,"y":0.063},{"p":8,"s":"f","x":0.73,"y":0.063},
{"p":8,"s":"i","x":0.35,"y":0.06},{"p":8,"s":"i","x":0.37,"y":0.059},{"p":8,"s":"i","x":0.39,"y":0.058},{"p":8,"s":"i","x":0.41,"y":0.058},{"p":8,"s":"i","x":0.43,"y":0.057},{"p":8,"s":"i","x":0.45,"y":0.058},{"p":8,"s":"i","x":0.47,"y":0.057},{"p":8,"s":"i","x":0.49,"y":0.057},{"p":8,"s":"i","x":0.51,"y":0.056},{"p":8,"s":"i","x":0.53,"y":0.056},{"p":8,"s":"i","x":0.55,"y":0.057},{"p":8,"s":"i","x":0.57,"y":0.056},{"p":8,"s":"i","x":0.59,"y":0.057},{"p":8,"s":"i","x":0.61,"y":0.056},{"p":8,"s":"i","x":0.63,"y":0.052},{"p":8,"s":"i","x":0.65,"y":0.054},{"p":8,"s":"i","x":0.67,"y":0.055},{"p":8,"s":"i","x":0.69,"y":0.054},{"p":8,"s":"i","x":0.71,"y":0.055},{"p":8,"s":"i","x":0.73,"y":0.054},
{"p":8,"s":"g","x":0.35,"y":0.045},{"p":8,"s":"g","x":0.37,"y":0.045},{"p":8,"s":"g","x":0.39,"y":0.045},{"p":8,"s":"g","x":0.41,"y":0.044},{"p":8,"s":"g","x":0.43,"y":0.044},{"p":8,"s":"g","x":0.45,"y":0.044},{"p":8,"s":"g","x":0.47,"y":0.044},{"p":8,"s":"g","x":0.49,"y":0.044},{"p":8,"s":"g","x":0.51,"y":0.043},{"p":8,"s":"g","x":0.53,"y":0.042},{"p":8,"s":"g","x":0.55,"y":0.041},{"p":8,"s":"g","x":0.57,"y":0.043},{"p":8,"s":"g","x":0.59,"y":0.042},{"p":8,"s":"g","x":0.61,"y":0.041},{"p":8,"s":"g","x":0.63,"y":0.041},{"p":8,"s":"g","x":0.65,"y":0.041},{"p":8,"s":"g","x":0.67,"y":0.04},{"p":8,"s":"g","x":0.69,"y":0.038},{"p":8,"s":"g","x":0.71,"y":0.039},{"p":8,"s":"g","x":0.73,"y":0.04},
{"p":8,"s":"j","x":0.35,"y":0.039},{"p":8,"s":"j","x":0.37,"y":0.039},{"p":8,"s":"j","x":0.39,"y":0.039},{"p":8,"s":"j","x":0.41,"y":0.039},{"p":8,"s":"j","x":0.43,"y":0.038},{"p":8,"s":"j","x":0.45,"y":0.039},{"p":8,"s":"j","x":0.47,"y":0.038},{"p":8,"s":"j","x":0.49,"y":0.038},{"p":8,"s":"j","x":0.51,"y":0.038},{"p":8,"s":"j","x":0.53,"y":0.038},{"p":8,"s":"j","x":0.55,"y":0.038},{"p":8,"s":"j","x":0.57,"y":0.037},{"p":8,"s":"j","x":0.59,"y":0.037},{"p":8,"s":"j","x":0.61,"y":0.037},{"p":8,"s":"j","x":0.63,"y":0.037},{"p":8,"s":"j","x":0.65,"y":0.036},{"p":8,"s":"j","x":0.67,"y":0.036},{"p":8,"s":"j","x":0.69,"y":0.036},{"p":8,"s":"j","x":0.71,"y":0.037},{"p":8,"s":"j","x":0.73,"y":0.036},
{"p":8,"s":"a","x":0.35,"y":0.033},{"p":8,"s":"a","x":0.37,"y":0.032},{"p":8,"s":"a","x":0.39,"y":0.034},{"p":8,"s":"a","x":0.41,"y":0.032},{"p":8,"s":"a","x":0.43,"y":0.033},{"p":8,"s":"a","x":0.45,"y":0.034},{"p":8,"s":"a","x":0.47,"y":0.032},{"p":8,"s":"a","x":0.49,"y":0.033},{"p":8,"s":"a","x":0.51,"y":0.033},{"p":8,"s":"a","x":0.53,"y":0.033},{"p":8,"s":"a","x":0.55,"y":0.032},{"p":8,"s":"a","x":0.57,"y":0.034},{"p":8,"s":"a","x":0.59,"y":0.033},{"p":8,"s":"a","x":0.61,"y":0.033},{"p":8,"s":"a","x":0.63,"y":0.034},{"p":8,"s":"a","x":0.65,"y":0.032},{"p":8,"s":"a","x":0.67,"y":0.032},{"p":8,"s":"a","x":0.69,"y":0.031},{"p":8,"s":"a","x":0.71,"y":0.032},{"p":8,"s":"a","x":0.73,"y":0.032},
{"p":8,"s":"m","x":0.35,"y":0.09},{"p":8,"s":"m","x":0.37,"y":0.09},{"p":8,"s":"m","x":0.39,"y":0.089},{"p":8,"s":"m","x":0.41,"y":0.089},{"p":8,"s":"m","x":0.43,"y":0.089},{"p":8,"s":"m","x":0.45,"y":0.089},{"p":8,"s":"m","x":0.47,"y":0.089},{"p":8,"s":"m","x":0.49,"y":0.089},{"p":8,"s":"m","x":0.51,"y":0.089},{"p":8,"s":"m","x":0.53,"y":0.088},{"p":8,"s":"m","x":0.55,"y":0.088},{"p":8,"s":"m","x":0.57,"y":0.088},{"p":8,"s":"m","x":0.59,"y":0.088},{"p":8,"s":"m","x":0.61,"y":0.088},{"p":8,"s":"m","x":0.63,"y":0.088},{"p":8,"s":"m","x":0.65,"y":0.087},{"p":8,"s":"m","x":0.67,"y":0.087},{"p":8,"s":"m","x":0.69,"y":0.087},{"p":8,"s":"m","x":0.71,"y":0.087},{"p":8,"s":"m","x":0.73,"y":0.087},
{"p":9,"s":"a","x":0.35,"y":0.0219,"e":0.0009},{"p":9,"s":"a","x":0.37,"y":0.022,"e":0.0009},{"p":9,"s":"a","x":0.39,"y":0.0211,"e":0.0009},{"p":9,"s":"a","x":0.41,"y":0.0196,"e":0.0009},{"p":9,"s":"a","x":0.43,"y":0.0202,"e":0.0009},{"p":9,"s":"a","x":0.45,"y":0.0207,"e":0.0009},{"p":9,"s":"a","x":0.47,"y":0.0204,"e":0.0009},{"p":9,"s":"a","x":0.49,"y":0.0221,"e":0.0009},{"p":9,"s":"a","x":0.51,"y":0.0199,"e":0.0009},{"p":9,"s":"a","x":0.53,"y":0.0199,"e":0.0009},{"p":9,"s":"a","x":0.55,"y":0.0196,"e":0.0009},{"p":9,"s":"a","x":0.57,"y":0.0194,"e":0.0009},{"p":9,"s":"a","x":0.59,"y":0.0189,"e":0.0009},{"p":9,"s":"a","x":0.61,"y":0.0204,"e":0.0009},{"p":9,"s":"a","x":0.63,"y":0.0211,"e":0.0009},{"p":9,"s":"a","x":0.65,"y":0.0184,"e":0.0009},{"p":9,"s":"a","x":0.67,"y":0.0201,"e":0.0009},{"p":9,"s":"a","x":0.69,"y":0.0195,"e":0.0009},{"p":9,"s":"a","x":0.71,"y":0.0179,"e":0.0009},{"p":9,"s":"a","x":0.73,"y":0.0204,"e":0.0009},
{"p":9,"s":"i","x":0.35,"y":0.0163,"e":0.0008},{"p":9,"s":"i","x":0.37,"y":0.0168,"e":0.0008},{"p":9,"s":"i","x":0.39,"y":0.0166,"e":0.0008},{"p":9,"s":"i","x":0.41,"y":0.0164,"e":0.0008},{"p":9,"s":"i","x":0.43,"y":0.0178,"e":0.0008},{"p":9,"s":"i","x":0.45,"y":0.0156,"e":0.0008},{"p":9,"s":"i","x":0.47,"y":0.0166,"e":0.0008},{"p":9,"s":"i","x":0.49,"y":0.0161,"e":0.0008},{"p":9,"s":"i","x":0.51,"y":0.0168,"e":0.0008},{"p":9,"s":"i","x":0.53,"y":0.0175,"e":0.0008},{"p":9,"s":"i","x":0.55,"y":0.0175,"e":0.0008},{"p":9,"s":"i","x":0.57,"y":0.0178,"e":0.0008},{"p":9,"s":"i","x":0.59,"y":0.0168,"e":0.0008},{"p":9,"s":"i","x":0.61,"y":0.0153,"e":0.0008},{"p":9,"s":"i","x":0.63,"y":0.0151,"e":0.0008},{"p":9,"s":"i","x":0.65,"y":0.0158,"e":0.0008},{"p":9,"s":"i","x":0.67,"y":0.017,"e":0.0008},{"p":9,"s":"i","x":0.69,"y":0.0163,"e":0.0008},{"p":9,"s":"i","x":0.71,"y":0.0151,"e":0.0008},{"p":9,"s":"i","x":0.73,"y":0.0149,"e":0.0008},
{"p":9,"s":"e","x":0.35,"y":0.0174,"e":0.0008},{"p":9,"s":"e","x":0.37,"y":0.0163,"e":0.0008},{"p":9,"s":"e","x":0.39,"y":0.0158,"e":0.0008},{"p":9,"s":"e","x":0.41,"y":0.0151,"e":0.0008},{"p":9,"s":"e","x":0.43,"y":0.0153,"e":0.0008},{"p":9,"s":"e","x":0.45,"y":0.0145,"e":0.0008},{"p":9,"s":"e","x":0.47,"y":0.016,"e":0.0008},{"p":9,"s":"e","x":0.49,"y":0.0158,"e":0.0008},{"p":9,"s":"e","x":0.51,"y":0.0153,"e":0.0008},{"p":9,"s":"e","x":0.53,"y":0.0151,"e":0.0008},{"p":9,"s":"e","x":0.55,"y":0.0153,"e":0.0008},{"p":9,"s":"e","x":0.57,"y":0.0153,"e":0.0008},{"p":9,"s":"e","x":0.59,"y":0.0147,"e":0.0008},{"p":9,"s":"e","x":0.61,"y":0.0168,"e":0.0008},{"p":9,"s":"e","x":0.63,"y":0.0158,"e":0.0008},{"p":9,"s":"e","x":0.65,"y":0.0165,"e":0.0008},{"p":9,"s":"e","x":0.67,"y":0.0162,"e":0.0008},{"p":9,"s":"e","x":0.69,"y":0.0153,"e":0.0008},{"p":9,"s":"e","x":0.71,"y":0.0151,"e":0.0008},{"p":9,"s":"e","x":0.73,"y":0.0151,"e":0.0008},
{"p":9,"s":"c","x":0.35,"y":0.0145,"e":0.0007},{"p":9,"s":"c","x":0.37,"y":0.0137,"e":0.0007},{"p":9,"s":"c","x":0.39,"y":0.0145,"e":0.0007},{"p":9,"s":"c","x":0.41,"y":0.0132,"e":0.0007},{"p":9,"s":"c","x":0.43,"y":0.0138,"e":0.0007},{"p":9,"s":"c","x":0.45,"y":0.0139,"e":0.0007},{"p":9,"s":"c","x":0.47,"y":0.015,"e":0.0007},{"p":9,"s":"c","x":0.49,"y":0.0144,"e":0.0007},{"p":9,"s":"c","x":0.51,"y":0.014,"e":0.0007},{"p":9,"s":"c","x":0.53,"y":0.0133,"e":0.0007},{"p":9,"s":"c","x":0.55,"y":0.0133,"e":0.0007},{"p":9,"s":"c","x":0.57,"y":0.0134,"e":0.0007},{"p":9,"s":"c","x":0.59,"y":0.0131,"e":0.0007},{"p":9,"s":"c","x":0.61,"y":0.0145,"e":0.0007},{"p":9,"s":"c","x":0.63,"y":0.0145,"e":0.0007},{"p":9,"s":"c","x":0.65,"y":0.0127,"e":0.0007},{"p":9,"s":"c","x":0.67,"y":0.0145,"e":0.0007},{"p":9,"s":"c","x":0.69,"y":0.0143,"e":0.0007},{"p":9,"s":"c","x":0.71,"y":0.0143,"e":0.0007},{"p":9,"s":"c","x":0.73,"y":0.0144,"e":0.0007},
{"p":9,"s":"g","x":0.35,"y":0.0089,"e":0.0006},{"p":9,"s":"g","x":0.37,"y":0.0081,"e":0.0006},{"p":9,"s":"g","x":0.39,"y":0.0089,"e":0.0006},{"p":9,"s":"g","x":0.41,"y":0.0091,"e":0.0006},{"p":9,"s":"g","x":0.43,"y":0.0097,"e":0.0006},{"p":9,"s":"g","x":0.45,"y":0.0081,"e":0.0006},{"p":9,"s":"g","x":0.47,"y":0.0092,"e":0.0006},{"p":9,"s":"g","x":0.49,"y":0.0095,"e":0.0006},{"p":9,"s":"g","x":0.51,"y":0.0091,"e":0.0006},{"p":9,"s":"g","x":0.53,"y":0.0081,"e":0.0006},{"p":9,"s":"g","x":0.55,"y":0.0079,"e":0.0006},{"p":9,"s":"g","x":0.57,"y":0.0076,"e":0.0006},{"p":9,"s":"g","x":0.59,"y":0.0084,"e":0.0006},{"p":9,"s":"g","x":0.61,"y":0.0075,"e":0.0006},{"p":9,"s":"g","x":0.63,"y":0.007,"e":0.0006},{"p":9,"s":"g","x":0.65,"y":0.0079,"e":0.0006},{"p":9,"s":"g","x":0.67,"y":0.0074,"e":0.0006},{"p":9,"s":"g","x":0.69,"y":0.0072,"e":0.0006},{"p":9,"s":"g","x":0.71,"y":0.0067,"e":0.0006},{"p":9,"s":"g","x":0.73,"y":0.0071,"e":0.0006},
{"p":9,"s":"b","x":0.35,"y":0.0062,"e":0.0005},{"p":9,"s":"b","x":0.37,"y":0.0065,"e":0.0005},{"p":9,"s":"b","x":0.39,"y":0.0062,"e":0.0005},{"p":9,"s":"b","x":0.41,"y":0.006,"e":0.0005},{"p":9,"s":"b","x":0.43,"y":0.0062,"e":0.0005},{"p":9,"s":"b","x":0.45,"y":0.0062,"e":0.0005},{"p":9,"s":"b","x":0.47,"y":0.0073,"e":0.0005},{"p":9,"s":"b","x":0.49,"y":0.0065,"e":0.0005},{"p":9,"s":"b","x":0.51,"y":0.0061,"e":0.0005},{"p":9,"s":"b","x":0.53,"y":0.0063,"e":0.0005},{"p":9,"s":"b","x":0.55,"y":0.0061,"e":0.0005},{"p":9,"s":"b","x":0.57,"y":0.0062,"e":0.0005},{"p":9,"s":"b","x":0.59,"y":0.0056,"e":0.0005},{"p":9,"s":"b","x":0.61,"y":0.0058,"e":0.0005},{"p":9,"s":"b","x":0.63,"y":0.0063,"e":0.0005},{"p":9,"s":"b","x":0.65,"y":0.0069,"e":0.0005},{"p":9,"s":"b","x":0.67,"y":0.0058,"e":0.0005},{"p":9,"s":"b","x":0.69,"y":0.0061,"e":0.0005},{"p":9,"s":"b","x":0.71,"y":0.0059,"e":0.0005},{"p":9,"s":"b","x":0.73,"y":0.0059,"e":0.0005},
{"p":9,"s":"j","x":0.35,"y":0.0055,"e":0.0005},{"p":9,"s":"j","x":0.37,"y":0.0048,"e":0.0005},{"p":9,"s":"j","x":0.39,"y":0.0046,"e":0.0005},{"p":9,"s":"j","x":0.41,"y":0.0053,"e":0.0005},{"p":9,"s":"j","x":0.43,"y":0.0052,"e":0.0005},{"p":9,"s":"j","x":0.45,"y":0.005,"e":0.0005},{"p":9,"s":"j","x":0.47,"y":0.0044,"e":0.0005},{"p":9,"s":"j","x":0.49,"y":0.0049,"e":0.0005},{"p":9,"s":"j","x":0.51,"y":0.0046,"e":0.0005},{"p":9,"s":"j","x":0.53,"y":0.0044,"e":0.0005},{"p":9,"s":"j","x":0.55,"y":0.0043,"e":0.0005},{"p":9,"s":"j","x":0.57,"y":0.0038,"e":0.0005},{"p":9,"s":"j","x":0.59,"y":0.0044,"e":0.0005},{"p":9,"s":"j","x":0.61,"y":0.0049,"e":0.0005},{"p":9,"s":"j","x":0.63,"y":0.0042,"e":0.0005},{"p":9,"s":"j","x":0.65,"y":0.0043,"e":0.0005},{"p":9,"s":"j","x":0.67,"y":0.0039,"e":0.0005},{"p":9,"s":"j","x":0.69,"y":0.0045,"e":0.0005},{"p":9,"s":"j","x":0.71,"y":0.0034,"e":0.0005},{"p":9,"s":"j","x":0.73,"y":0.0039,"e":0.0005},
{"p":9,"s":"f","x":0.35,"y":0.0049,"e":0.0004},{"p":9,"s":"f","x":0.37,"y":0.0053,"e":0.0004},{"p":9,"s":"f","x":0.39,"y":0.005,"e":0.0004},{"p":9,"s":"f","x":0.41,"y":0.004,"e":0.0004},{"p":9,"s":"f","x":0.43,"y":0.0043,"e":0.0004},{"p":9,"s":"f","x":0.45,"y":0.0047,"e":0.0004},{"p":9,"s":"f","x":0.47,"y":0.0048,"e":0.0004},{"p":9,"s":"f","x":0.49,"y":0.0048,"e":0.0004},{"p":9,"s":"f","x":0.51,"y":0.0043,"e":0.0004},{"p":9,"s":"f","x":0.53,"y":0.0049,"e":0.0004},{"p":9,"s":"f","x":0.55,"y":0.0048,"e":0.0004},{"p":9,"s":"f","x":0.57,"y":0.005,"e":0.0004},{"p":9,"s":"f","x":0.59,"y":0.0045,"e":0.0004},{"p":9,"s":"f","x":0.61,"y":0.0047,"e":0.0004},{"p":9,"s":"f","x":0.63,"y":0.0045,"e":0.0004},{"p":9,"s":"f","x":0.65,"y":0.0046,"e":0.0004},{"p":9,"s":"f","x":0.67,"y":0.004,"e":0.0004},{"p":9,"s":"f","x":0.69,"y":0.0035,"e":0.0004},{"p":9,"s":"f","x":0.71,"y":0.0036,"e":0.0004},{"p":9,"s":"f","x":0.73,"y":0.0038,"e":0.0004},
{"p":9,"s":"d","x":0.35,"y":0.0028,"e":0.0004},{"p":9,"s":"d","x":0.37,"y":0.0033,"e":0.0004},{"p":9,"s":"d","x":0.39,"y":0.0032,"e":0.0004},{"p":9,"s":"d","x":0.41,"y":0.0041,"e":0.0004},{"p":9,"s":"d","x":0.43,"y":0.0031,"e":0.0004},{"p":9,"s":"d","x":0.45,"y":0.0031,"e":0.0004},{"p":9,"s":"d","x":0.47,"y":0.0029,"e":0.0004},{"p":9,"s":"d","x":0.49,"y":0.0032,"e":0.0004},{"p":9,"s":"d","x":0.51,"y":0.0031,"e":0.0004},{"p":9,"s":"d","x":0.53,"y":0.0029,"e":0.0004},{"p":9,"s":"d","x":0.55,"y":0.0025,"e":0.0004},{"p":9,"s":"d","x":0.57,"y":0.003,"e":0.0004},{"p":9,"s":"d","x":0.59,"y":0.003,"e":0.0004},{"p":9,"s":"d","x":0.61,"y":0.0029,"e":0.0004},{"p":9,"s":"d","x":0.63,"y":0.0029,"e":0.0004},{"p":9,"s":"d","x":0.65,"y":0.0029,"e":0.0004},{"p":9,"s":"d","x":0.67,"y":0.004,"e":0.0004},{"p":9,"s":"d","x":0.69,"y":0.0034,"e":0.0004},{"p":9,"s":"d","x":0.71,"y":0.0031,"e":0.0004},{"p":9,"s":"d","x":0.73,"y":0.0033,"e":0.0004},
{"p":9,"s":"h","x":0.35,"y":0.0009,"e":0.0002},{"p":9,"s":"h","x":0.37,"y":0.0009,"e":0.0002},{"p":9,"s":"h","x":0.39,"y":0.0011,"e":0.0002},{"p":9,"s":"h","x":0.41,"y":0.0007,"e":0.0002},{"p":9,"s":"h","x":0.43,"y":0.0008,"e":0.0002},{"p":9,"s":"h","x":0.45,"y":0.0008,"e":0.0002},{"p":9,"s":"h","x":0.47,"y":0.0007,"e":0.0002},{"p":9,"s":"h","x":0.49,"y":0.0009,"e":0.0002},{"p":9,"s":"h","x":0.51,"y":0.0008,"e":0.0002},{"p":9,"s":"h","x":0.53,"y":0.0007,"e":0.0002},{"p":9,"s":"h","x":0.55,"y":0.0009,"e":0.0002},{"p":9,"s":"h","x":0.57,"y":0.0009,"e":0.0002},{"p":9,"s":"h","x":0.59,"y":0.0006,"e":0.0002},{"p":9,"s":"h","x":0.61,"y":0.0007,"e":0.0002},{"p":9,"s":"h","x":0.63,"y":0.0006,"e":0.0002},{"p":9,"s":"h","x":0.65,"y":0.0006,"e":0.0002},{"p":9,"s":"h","x":0.67,"y":0.0008,"e":0.0002},{"p":9,"s":"h","x":0.69,"y":0.001,"e":0.0002},{"p":9,"s":"h","x":0.71,"y":0.0007,"e":0.0002},{"p":9,"s":"h","x":0.73,"y":0.0008,"e":0.0002},
{"p":9,"s":"m","x":0.35,"y":0.0099},{"p":9,"s":"m","x":0.37,"y":0.0097},{"p":9,"s":"m","x":0.39,"y":0.0096},{"p":9,"s":"m","x":0.41,"y":0.0093},{"p":9,"s":"m","x":0.43,"y":0.0098},{"p":9,"s":"m","x":0.45,"y":0.0093},{"p":9,"s":"m","x":0.47,"y":0.0096},{"p":9,"s":"m","x":0.49,"y":0.0098},{"p":9,"s":"m","x":0.51,"y":0.0095},{"p":9,"s":"m","x":0.53,"y":0.0093},{"p":9,"s":"m","x":0.55,"y":0.0093},{"p":9,"s":"m","x":0.57,"y":0.0093},{"p":9,"s":"m","x":0.59,"y":0.0091},{"p":9,"s":"m","x":0.61,"y":0.0094},{"p":9,"s":"m","x":0.63,"y":0.0092},{"p":9,"s":"m","x":0.65,"y":0.0091},{"p":9,"s":"m","x":0.67,"y":0.0094},{"p":9,"s":"m","x":0.69,"y":0.0092},{"p":9,"s":"m","x":0.71,"y":0.0086},{"p":9,"s":"m","x":0.73,"y":0.009}
]},
"spacing":12,
"vconcat":[
{"spacing":27,"bounds":"flush","hconcat":[
{"width":298,"height":218,"title":"5 × 5","transform":[{"filter":"datum.p==1"}],
"encoding":{"x":{"field":"x","type":"quantitative","scale":{"domain":[0.331,0.749],"nice":false,"zero":false},"axis":{"values":[0.34,0.44,0.54,0.64,0.74],"format":".2f","title":null}},
"y":{"field":"y","type":"quantitative","scale":{"domain":[1.75,11.2],"nice":false,"zero":false},"axis":{"values":[2,4,6,8,10],"title":"Average of Goal Rate","titleY":115}}},
"layer":[
{"transform":[{"filter":"datum.s!='m'"}],"mark":{"type":"line","strokeWidth":1.2,"opacity":0.9,"point":{"size":6,"filled":true}},"encoding":{"color":{"field":"s","type":"nominal","legend":null,"scale":{"domain":["a","b","c","d","e","f","g","h","i","j"]}}}},
{"transform":[{"filter":"datum.s=='m'"}],"mark":{"type":"line","strokeWidth":2.2,"strokeDash":[7,4],"color":"#A83A44"},"encoding":{}}]},
{"width":305,"height":218,"title":"7 × 7","transform":[{"filter":"datum.p==2"}],
"encoding":{"x":{"field":"x","type":"quantitative","scale":{"domain":[0.331,0.749],"nice":false,"zero":false},"axis":{"values":[0.34,0.44,0.54,0.64,0.74],"format":".2f","title":null}},
"y":{"field":"y","type":"quantitative","scale":{"domain":[0.6,42.2],"nice":false,"zero":false},"axis":{"values":[5,10,15,20,25,30,35,40],"title":null}}},
"layer":[
{"transform":[{"filter":"datum.s!='m'"}],"mark":{"type":"line","strokeWidth":1.2,"opacity":0.9,"point":{"size":6,"filled":true}},"encoding":{"color":{"field":"s","type":"nominal","legend":null,"scale":{"domain":["a","b","c","d","e","f","g","h","i","j"]}}}},
{"transform":[{"filter":"datum.s=='m'"}],"mark":{"type":"line","strokeWidth":2.2,"strokeDash":[7,4],"color":"#A83A44"},"encoding":{}}]},
{"width":323,"height":218,"title":"9 × 9","transform":[{"filter":"datum.p==3"}],
"encoding":{"x":{"field":"x","type":"quantitative","scale":{"domain":[0.331,0.749],"nice":false,"zero":false},"axis":{"values":[0.34,0.44,0.54,0.64,0.74],"format":".2f","title":null}},
"y":{"field":"y","type":"quantitative","scale":{"domain":[-0.6,62.9],"nice":false,"zero":false},"axis":{"values":[0,10,20,30,40,50,60],"title":null}}},
"layer":[
{"transform":[{"filter":"datum.s!='m'"}],"mark":{"type":"line","strokeWidth":1.2,"opacity":0.9,"point":{"size":6,"filled":true}},"encoding":{"color":{"field":"s","type":"nominal","legend":null,"scale":{"domain":["a","b","c","d","e","f","g","h","i","j"]}}}},
{"transform":[{"filter":"datum.s=='m'"}],"mark":{"type":"line","strokeWidth":2.2,"strokeDash":[7,4],"color":"#A83A44"},"encoding":{}}]}
]},
{"spacing":34,"bounds":"flush","hconcat":[
{"width":298,"height":222,"transform":[{"filter":"datum.p==4"}],
"encoding":{"x":{"field":"x","type":"quantitative","scale":{"domain":[0.331,0.749],"nice":false,"zero":false},"axis":{"values":[0.34,0.44,0.54,0.64,0.74],"format":".2f","title":null}},
"y":{"field":"y","type":"quantitative","scale":{"domain":[0.805,1.326],"nice":false,"zero":false},"axis":{"values":[0.9,1.0,1.1,1.2,1.3],"format":".1f","title":"Average of Entropy","titleY":110}}},
"layer":[
{"transform":[{"filter":"datum.s!='m'"}],"mark":{"type":"line","strokeWidth":1.2,"opacity":0.9,"point":{"size":6,"filled":true}},"encoding":{"color":{"field":"s","type":"nominal","legend":null,"scale":{"domain":["a","b","c","d","e","f","g","h","i","j"]}}}},
{"transform":[{"filter":"datum.s=='m'"}],"mark":{"type":"line","strokeWidth":2.2,"strokeDash":[7,4],"color":"#A83A44"},"encoding":{}}]},
{"width":298,"height":222,"transform":[{"filter":"datum.p==5"}],
"encoding":{"x":{"field":"x","type":"quantitative","scale":{"domain":[0.331,0.749],"nice":false,"zero":false},"axis":{"values":[0.34,0.44,0.54,0.64,0.74],"format":".2f","title":null}},
"y":{"field":"y","type":"quantitative","scale":{"domain":[1.03,1.49],"nice":false,"zero":false},"axis":{"values":[1.1,1.2,1.3,1.4],"format":".1f","title":null}}},
"layer":[
{"transform":[{"filter":"datum.s!='m'"}],"mark":{"type":"line","strokeWidth":1.2,"opacity":0.9,"point":{"size":6,"filled":true}},"encoding":{"color":{"field":"s","type":"nominal","legend":null,"scale":{"domain":["a","b","c","d","e","f","g","h","i","j"]}}}},
{"transform":[{"filter":"datum.s=='m'"}],"mark":{"type":"line","strokeWidth":2.2,"strokeDash":[7,4],"color":"#A83A44"},"encoding":{}}]},
{"width":316,"height":222,"transform":[{"filter":"datum.p==6"}],
"encoding":{"x":{"field":"x","type":"quantitative","scale":{"domain":[0.331,0.749],"nice":false,"zero":false},"axis":{"values":[0.34,0.44,0.54,0.64,0.74],"format":".2f","title":null}},
"y":{"field":"y","type":"quantitative","scale":{"domain":[0.935,1.465],"nice":false,"zero":false},"axis":{"values":[1.0,1.1,1.2,1.3,1.4],"format":".1f","title":null}}},
"layer":[
{"transform":[{"filter":"datum.s!='m'"}],"mark":{"type":"line","strokeWidth":1.2,"opacity":0.9,"point":{"size":6,"filled":true}},"encoding":{"color":{"field":"s","type":"nominal","legend":null,"scale":{"domain":["a","b","c","d","e","f","g","h","i","j"]}}}},
{"transform":[{"filter":"datum.s=='m'"}],"mark":{"type":"line","strokeWidth":2.2,"strokeDash":[7,4],"color":"#A83A44"},"encoding":{}}]}
]},
{"spacing":41,"bounds":"flush","hconcat":[
{"width":297,"height":220,"transform":[{"filter":"datum.p==7"}],
"encoding":{"x":{"field":"x","type":"quantitative","scale":{"domain":[0.331,0.749],"nice":false,"zero":false},"axis":{"values":[0.34,0.44,0.54,0.64,0.74],"format":".2f","title":null}},
"y":{"field":"y","type":"quantitative","scale":{"domain":[0.035,0.985],"nice":false,"zero":false},"axis":{"values":[0.2,0.4,0.6,0.8],"format":".1f","title":"Average of Goal Rate","titleY":115}}},
"layer":[
{"transform":[{"filter":"datum.s!='m'"}],"mark":{"type":"line","strokeWidth":1.2,"opacity":0.9,"point":{"size":6,"filled":true}},"encoding":{"color":{"field":"s","type":"nominal","legend":null,"scale":{"domain":["a","b","c","d","e","f","g","h","i","j"]}}}},
{"transform":[{"filter":"datum.s=='m'"}],"mark":{"type":"line","strokeWidth":2.2,"strokeDash":[7,4],"color":"#A83A44"},"encoding":{}}]},
{"width":297,"height":220,"transform":[{"filter":"datum.p==8"}],
"encoding":{"x":{"field":"x","type":"quantitative","scale":{"domain":[0.331,0.749],"nice":false,"zero":false},"axis":{"values":[0.34,0.44,0.54,0.64,0.74],"format":".2f","title":null}},
"y":{"field":"y","type":"quantitative","scale":{"domain":[0.015,0.343],"nice":false,"zero":false},"axis":{"values":[0.05,0.1,0.15,0.2,0.25,0.3],"format":".2f","title":null}}},
"layer":[
{"transform":[{"filter":"datum.s!='m'"}],"mark":{"type":"line","strokeWidth":1.2,"opacity":0.9,"point":{"size":6,"filled":true}},"encoding":{"color":{"field":"s","type":"nominal","legend":null,"scale":{"domain":["a","b","c","d","e","f","g","h","i","j"]}}}},
{"transform":[{"filter":"datum.s=='m'"}],"mark":{"type":"line","strokeWidth":2.2,"strokeDash":[7,4],"color":"#A83A44"},"encoding":{}}]},
{"width":305,"height":220,"transform":[{"filter":"datum.p==9"}],
"encoding":{"x":{"field":"x","type":"quantitative","scale":{"domain":[0.331,0.749],"nice":false,"zero":false},"axis":{"values":[0.34,0.44,0.54,0.64,0.74],"format":".2f","title":null}},
"y":{"field":"y","type":"quantitative","scale":{"domain":[-0.0006,0.0242],"nice":false,"zero":false},"axis":{"values":[0,0.005,0.01,0.015,0.02],"format":".3f","title":null}}},
"layer":[
{"transform":[{"filter":"datum.s!='m'"}],"mark":{"type":"errorbar","ticks":true,"thickness":1,"opacity":0.8},"encoding":{"yError":{"field":"e"},"color":{"field":"s","type":"nominal","legend":null,"scale":{"domain":["a","b","c","d","e","f","g","h","i","j"]}}}},
{"transform":[{"filter":"datum.s!='m'"}],"mark":{"type":"line","strokeWidth":1.2,"opacity":0.9,"point":{"size":6,"filled":true}},"encoding":{"color":{"field":"s","type":"nominal","legend":null,"scale":{"domain":["a","b","c","d","e","f","g","h","i","j"]}}}},
{"transform":[{"filter":"datum.s=='m'"}],"mark":{"type":"line","strokeWidth":2.2,"strokeDash":[7,4],"color":"#A83A44"},"encoding":{}}]}
]}
]
}
